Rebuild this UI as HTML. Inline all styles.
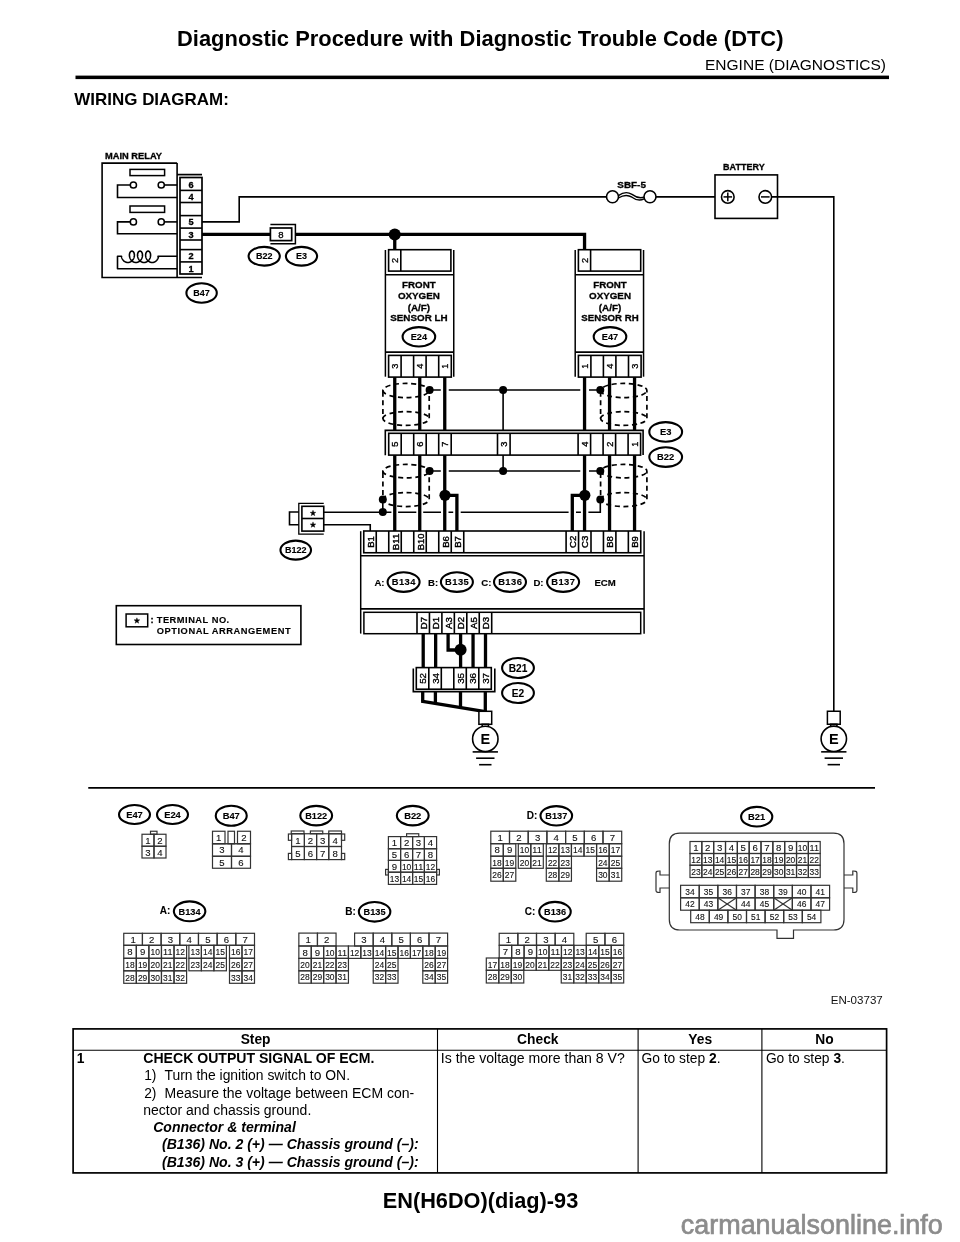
<!DOCTYPE html>
<html><head><meta charset="utf-8"><title>EN(H6DO)(diag)-93</title>
<style>
html,body{margin:0;padding:0;background:#fff;}
body{width:960px;height:1242px;overflow:hidden;}
svg{display:block;font-family:"Liberation Sans",sans-serif;will-change:transform;}
</style></head><body>
<svg width="960" height="1242" viewBox="0 0 960 1242">
<text x="177" y="45.5" font-size="21.9" font-weight="bold" text-anchor="start" fill="#000" textLength="606.5" lengthAdjust="spacingAndGlyphs" >Diagnostic Procedure with Diagnostic Trouble Code (DTC)</text>
<text x="705" y="70" font-size="15.5" font-weight="normal" text-anchor="start" fill="#000" textLength="181" lengthAdjust="spacingAndGlyphs" >ENGINE (DIAGNOSTICS)</text>
<rect x="75.5" y="75.6" width="813.5" height="3.5" fill="#000"/>
<text x="74.3" y="104.5" font-size="16.9" font-weight="bold" text-anchor="start" fill="#000" textLength="154.5" lengthAdjust="spacingAndGlyphs" >WIRING DIAGRAM:</text>
<text x="105" y="159" font-size="9.3" font-weight="bold" text-anchor="start" fill="#000" textLength="57" lengthAdjust="spacingAndGlyphs"  stroke="#000" stroke-width="0.3">MAIN RELAY</text>
<path d="M177.1,163.1 H102.1 V277.5 H202" stroke="#000" stroke-width="1.6" fill="none" />
<line x1="177.1" y1="163.1" x2="177.1" y2="277.5" stroke="#000" stroke-width="1.6" />
<line x1="177.1" y1="174.6" x2="202" y2="174.6" stroke="#000" stroke-width="1.7" />
<rect x="180" y="177.5" width="22" height="96.5" stroke="#000" stroke-width="1.7" fill="#fff"/>
<line x1="180" y1="190.4" x2="202" y2="190.4" stroke="#000" stroke-width="1.6" />
<line x1="180" y1="202.5" x2="202" y2="202.5" stroke="#000" stroke-width="1.6" />
<line x1="180" y1="215.6" x2="202" y2="215.6" stroke="#000" stroke-width="1.6" />
<line x1="180" y1="228.1" x2="202" y2="228.1" stroke="#000" stroke-width="1.6" />
<line x1="180" y1="240" x2="202" y2="240" stroke="#000" stroke-width="1.6" />
<line x1="180" y1="249.6" x2="202" y2="249.6" stroke="#000" stroke-width="1.6" />
<line x1="180" y1="261.9" x2="202" y2="261.9" stroke="#000" stroke-width="1.6" />
<text x="191" y="187.5" font-size="9.2" font-weight="bold" text-anchor="middle" fill="#000"  stroke="#000" stroke-width="0.3">6</text>
<text x="191" y="200" font-size="9.2" font-weight="bold" text-anchor="middle" fill="#000"  stroke="#000" stroke-width="0.3">4</text>
<text x="191" y="225.4" font-size="9.2" font-weight="bold" text-anchor="middle" fill="#000"  stroke="#000" stroke-width="0.3">5</text>
<text x="191" y="237.5" font-size="9.2" font-weight="bold" text-anchor="middle" fill="#000"  stroke="#000" stroke-width="0.3">3</text>
<text x="191" y="259.25" font-size="9.2" font-weight="bold" text-anchor="middle" fill="#000"  stroke="#000" stroke-width="0.3">2</text>
<text x="191" y="271.5" font-size="9.2" font-weight="bold" text-anchor="middle" fill="#000"  stroke="#000" stroke-width="0.3">1</text>
<rect x="130" y="169.4" width="34.6" height="6.2" stroke="#000" stroke-width="1.5" fill="#fff"/>
<path d="M164.4,185 H177.1" stroke="#000" stroke-width="1.6" fill="none" />
<path d="M130.3,185 H117.5 V197.5 H177.1" stroke="#000" stroke-width="1.6" fill="none" />
<circle cx="133.4" cy="185" r="3.1" stroke="#000" stroke-width="1.5" fill="#fff"/>
<circle cx="161.25" cy="185" r="3.1" stroke="#000" stroke-width="1.5" fill="#fff"/>
<rect x="130" y="206" width="34.6" height="6.4" stroke="#000" stroke-width="1.5" fill="#fff"/>
<path d="M164.4,221.9 H177.1" stroke="#000" stroke-width="1.6" fill="none" />
<path d="M130.3,221.9 H117.5 V233.75 H177.1" stroke="#000" stroke-width="1.6" fill="none" />
<circle cx="133.4" cy="221.9" r="3.1" stroke="#000" stroke-width="1.5" fill="#fff"/>
<circle cx="161.25" cy="221.9" r="3.1" stroke="#000" stroke-width="1.5" fill="#fff"/>
<path d="M177.1,256.3 H158 L158.45,256.98 L158.35,257.32 L158.25,257.66 L158.12,257.99 L157.98,258.33 L157.83,258.65 L157.66,258.97 L157.48,259.29 L157.28,259.59 L157.07,259.88 L156.85,260.16 L156.61,260.43 L156.36,260.69 L156.10,260.93 L155.83,261.16 L155.56,261.37 L155.27,261.57 L154.97,261.75 L154.66,261.91 L154.35,262.05 L154.03,262.17 L153.71,262.28 L153.38,262.36 L153.05,262.43 L152.72,262.47 L152.38,262.50 L152.05,262.50 L151.71,262.48 L151.38,262.44 L151.05,262.39 L150.72,262.31 L150.40,262.21 L150.08,262.09 L149.76,261.96 L149.45,261.80 L149.16,261.63 L148.86,261.44 L148.58,261.23 L148.31,261.01 L148.05,260.77 L147.79,260.52 L147.55,260.25 L147.33,259.97 L147.11,259.68 L146.91,259.38 L146.72,259.07 L146.55,258.76 L146.39,258.43 L146.25,258.10 L146.12,257.77 L146.01,257.43 L145.91,257.09 L145.82,256.75 L145.76,256.40 L145.71,256.06 L145.67,255.73 L145.65,255.39 L145.64,255.06 L145.65,254.74 L145.67,254.43 L145.71,254.12 L145.76,253.82 L145.83,253.54 L145.90,253.26 L145.99,253.00 L146.09,252.75 L146.20,252.52 L146.32,252.30 L146.45,252.10 L146.59,251.91 L146.74,251.75 L146.90,251.60 L147.06,251.47 L147.22,251.36 L147.39,251.27 L147.57,251.19 L147.75,251.14 L147.93,251.11 L148.11,251.10 L148.29,251.11 L148.47,251.14 L148.64,251.19 L148.82,251.26 L148.99,251.35 L149.16,251.46 L149.32,251.59 L149.47,251.74 L149.62,251.91 L149.76,252.09 L149.89,252.29 L150.01,252.51 L150.13,252.74 L150.23,252.99 L150.32,253.25 L150.39,253.53 L150.46,253.81 L150.51,254.11 L150.55,254.41 L150.57,254.73 L150.58,255.05 L150.57,255.38 L150.55,255.71 L150.52,256.05 L150.47,256.39 L150.40,256.73 L150.32,257.07 L150.22,257.41 L150.11,257.75 L149.98,258.09 L149.84,258.42 L149.68,258.74 L149.51,259.06 L149.32,259.37 L149.12,259.67 L148.90,259.96 L148.68,260.24 L148.44,260.51 L148.19,260.76 L147.92,261.00 L147.65,261.22 L147.37,261.43 L147.08,261.62 L146.78,261.79 L146.47,261.95 L146.16,262.09 L145.84,262.21 L145.51,262.30 L145.19,262.38 L144.85,262.44 L144.52,262.48 L144.19,262.50 L143.85,262.50 L143.52,262.47 L143.18,262.43 L142.85,262.37 L142.52,262.28 L142.20,262.18 L141.88,262.06 L141.57,261.91 L141.26,261.75 L140.97,261.58 L140.68,261.38 L140.40,261.17 L140.13,260.94 L139.87,260.70 L139.62,260.44 L139.38,260.17 L139.16,259.89 L138.95,259.60 L138.75,259.30 L138.57,258.99 L138.40,258.67 L138.24,258.34 L138.10,258.01 L137.98,257.67 L137.87,257.33 L137.78,256.99 L137.70,256.65 L137.64,256.31 L137.59,255.97 L137.56,255.63 L137.54,255.30 L137.54,254.97 L137.55,254.65 L137.58,254.34 L137.62,254.04 L137.67,253.74 L137.74,253.46 L137.82,253.19 L137.91,252.93 L138.02,252.69 L138.13,252.46 L138.25,252.24 L138.39,252.05 L138.53,251.87 L138.68,251.70 L138.84,251.56 L139.00,251.43 L139.17,251.33 L139.34,251.24 L139.51,251.18 L139.69,251.13 L139.87,251.11 L140.05,251.10 L140.23,251.12 L140.41,251.15 L140.59,251.21 L140.76,251.29 L140.93,251.38 L141.10,251.50 L141.26,251.63 L141.41,251.79 L141.56,251.96 L141.69,252.15 L141.82,252.35 L141.94,252.57 L142.05,252.81 L142.15,253.06 L142.23,253.33 L142.31,253.60 L142.37,253.89 L142.42,254.19 L142.45,254.50 L142.47,254.82 L142.47,255.14 L142.46,255.47 L142.44,255.81 L142.40,256.14 L142.34,256.49 L142.27,256.83 L142.19,257.17 L142.08,257.51 L141.97,257.85 L141.84,258.18 L141.69,258.51 L141.53,258.83 L141.35,259.15 L141.16,259.46 L140.95,259.75 L140.74,260.04 L140.51,260.32 L140.26,260.58 L140.01,260.83 L139.74,261.06 L139.47,261.28 L139.18,261.48 L138.89,261.67 L138.59,261.84 L138.28,261.99 L137.96,262.12 L137.64,262.24 L137.32,262.33 L136.99,262.40 L136.66,262.45 L136.32,262.49 L135.99,262.50 L135.65,262.49 L135.32,262.46 L134.98,262.41 L134.65,262.34 L134.33,262.26 L134.01,262.15 L133.69,262.02 L133.38,261.87 L133.08,261.71 L132.78,261.52 L132.49,261.32 L132.22,261.11 L131.95,260.88 L131.69,260.63 L131.45,260.37 L131.21,260.10 L130.99,259.81 L130.79,259.52 L130.59,259.21 L130.41,258.90 L130.25,258.58 L130.10,258.25 L129.96,257.91 L129.84,257.58 L129.74,257.24 L129.65,256.90 L129.57,256.55 L129.52,256.21 L129.47,255.87 L129.45,255.54 L129.43,255.21 L129.43,254.88 L129.45,254.56 L129.48,254.25 L129.53,253.95 L129.58,253.66 L129.66,253.38 L129.74,253.11 L129.83,252.86 L129.94,252.62 L130.06,252.40 L130.18,252.19 L130.32,251.99 L130.46,251.82 L130.62,251.66 L130.77,251.52 L130.94,251.40 L131.11,251.30 L131.28,251.22 L131.46,251.16 L131.64,251.12 L131.82,251.10 L132.00,251.10 L132.18,251.12 L132.36,251.17 L132.53,251.23 L132.71,251.31 L132.87,251.41 L133.04,251.53 L133.20,251.67 L133.35,251.83 L133.49,252.01 L133.63,252.20 L133.75,252.41 L133.87,252.64 L133.97,252.88 L134.07,253.13 L134.15,253.40 L134.22,253.68 L134.28,253.98 L134.32,254.28 L134.35,254.59 L134.37,254.91 L134.37,255.23 L134.35,255.56 L134.32,255.90 L134.28,256.24 L134.22,256.58 L134.14,256.92 L134.05,257.26 L133.95,257.60 L133.83,257.94 L133.69,258.27 L133.54,258.60 L133.37,258.92 L133.19,259.24 L133.00,259.54 L132.79,259.84 L132.57,260.12 L132.33,260.39 L132.09,260.65 L131.83,260.90 L131.56,261.13 L131.28,261.34 L131.00,261.54 L130.70,261.72 L130.40,261.88 L130.09,262.03 L129.77,262.16 L129.45,262.26 L129.12,262.35 L128.79,262.42 L128.46,262.47 L128.12,262.49 L127.79,262.50 L127.45,262.49 L127.12,262.45 L126.79,262.40 L126.46,262.32 L126.13,262.23 L125.81,262.11 L125.50,261.98 L125.19,261.83 L124.89,261.66 L124.59,261.47 L124.31,261.26 L124.03,261.04 L123.77,260.81 L123.52,260.56 L123.28,260.29 L123.05,260.02 L122.83,259.73 L122.63,259.43 L122.44,259.12 L122.26,258.81 L122.10,258.48 L121.95,258.15 L121.82,257.82 L121.71,257.48 L121.61,257.14 L121.52,256.80 L121.5,256.3 H117.5 V268.75 H177.1" stroke="#000" stroke-width="1.6" fill="none" stroke-linejoin="round"/>
<ellipse cx="201.6" cy="293" rx="15.2" ry="9.7" stroke="#000" stroke-width="2.1" fill="#fff"/>
<text x="201.6" y="296.11" font-size="9.02" font-weight="bold" text-anchor="middle" fill="#000"  stroke="#000" stroke-width="0.12">B47</text>
<path d="M202,221.9 H239.2 V196.9 H606.5" stroke="#000" stroke-width="1.6" fill="none" />
<circle cx="612.5" cy="196.8" r="6" stroke="#000" stroke-width="1.6" fill="#fff"/>
<circle cx="650" cy="196.8" r="6" stroke="#000" stroke-width="1.6" fill="#fff"/>
<path d="M618.4,195.6 C623,192.2 628,191.8 632,194.4 C636,197.4 639,198.8 644.1,197.2" stroke="#000" stroke-width="1.35" fill="none" />
<path d="M618.4,198.0 C623,195.2 628,194.8 632,197.2 C636,200.2 639.5,201.2 644.1,198.8" stroke="#000" stroke-width="1.35" fill="none" />
<path d="M656,196.9 H721.2" stroke="#000" stroke-width="1.6" fill="none" />
<text x="617.3" y="187.5" font-size="8.9" font-weight="bold" text-anchor="start" fill="#000" textLength="28.6" lengthAdjust="spacingAndGlyphs"  stroke="#000" stroke-width="0.3">SBF-5</text>
<text x="723.1" y="170.2" font-size="9.2" font-weight="bold" text-anchor="start" fill="#000" textLength="41.6" lengthAdjust="spacingAndGlyphs"  stroke="#000" stroke-width="0.3">BATTERY</text>
<rect x="715" y="174.9" width="62.5" height="43.5" stroke="#000" stroke-width="1.6" fill="#fff"/>
<circle cx="727.8" cy="196.9" r="6.3" stroke="#000" stroke-width="1.6" fill="#fff"/>
<line x1="723.5" y1="196.9" x2="732.1" y2="196.9" stroke="#000" stroke-width="1.5" />
<line x1="727.8" y1="192.6" x2="727.8" y2="201.2" stroke="#000" stroke-width="1.5" />
<circle cx="765.3" cy="196.9" r="6.3" stroke="#000" stroke-width="1.6" fill="#fff"/>
<line x1="761" y1="196.9" x2="769.6" y2="196.9" stroke="#000" stroke-width="1.5" />
<path d="M771.8,196.9 H833.8 V711.25" stroke="#000" stroke-width="1.6" fill="none" />
<path d="M202,234.4 H270.4" stroke="#000" stroke-width="3.3" fill="none" />
<path d="M295.4,234.4 H584.55 V250" stroke="#000" stroke-width="3.3" fill="none" stroke-linejoin="miter"/>
<rect x="270.4" y="228" width="21.3" height="12.6" stroke="#000" stroke-width="1.7" fill="#fff"/>
<path d="M270.4,224.6 H295.4 V243.75 H270.4" stroke="#000" stroke-width="1.5" fill="none" />
<text x="281" y="237.8" font-size="9.6" font-weight="normal" text-anchor="middle" fill="#000"  stroke="#000" stroke-width="0.3">8</text>
<ellipse cx="264.2" cy="256.25" rx="15.6" ry="9.4" stroke="#000" stroke-width="2.1" fill="#fff"/>
<text x="264.2" y="259.36" font-size="9.02" font-weight="bold" text-anchor="middle" fill="#000"  stroke="#000" stroke-width="0.12">B22</text>
<ellipse cx="301.5" cy="256.25" rx="15.6" ry="9.4" stroke="#000" stroke-width="2.1" fill="#fff"/>
<text x="301.5" y="259.36" font-size="9.02" font-weight="bold" text-anchor="middle" fill="#000"  stroke="#000" stroke-width="0.12">E3</text>
<circle cx="394.75" cy="234.4" r="6" fill="#000"/>
<line x1="394.75" y1="234.4" x2="394.75" y2="250" stroke="#000" stroke-width="3.3" />
<line x1="385.4" y1="250" x2="385.4" y2="376.7" stroke="#000" stroke-width="1.5" />
<line x1="453.75" y1="250" x2="453.75" y2="376.7" stroke="#000" stroke-width="1.5" />
<rect x="388.6" y="249.7" width="62.3" height="21.4" stroke="#000" stroke-width="1.6" fill="#fff"/>
<line x1="400.8" y1="249.7" x2="400.8" y2="271.1" stroke="#000" stroke-width="1.6" />
<text transform="translate(394.7,260.4) rotate(-90)" x="0" y="3.5" font-size="9.2" font-weight="normal" text-anchor="middle" fill="#000" stroke="#000" stroke-width="0.3">2</text>
<line x1="385.4" y1="274.8" x2="453.75" y2="274.8" stroke="#000" stroke-width="1.6" />
<line x1="385.4" y1="352.1" x2="453.75" y2="352.1" stroke="#000" stroke-width="1.6" />
<rect x="388.6" y="355.4" width="62.7" height="21.7" stroke="#000" stroke-width="1.6" fill="#fff"/>
<line x1="401.1" y1="355.4" x2="401.1" y2="377.1" stroke="#000" stroke-width="1.6" />
<line x1="413.6" y1="355.4" x2="413.6" y2="377.1" stroke="#000" stroke-width="1.6" />
<line x1="426.1" y1="355.4" x2="426.1" y2="377.1" stroke="#000" stroke-width="1.6" />
<line x1="438.7" y1="355.4" x2="438.7" y2="377.1" stroke="#000" stroke-width="1.6" />
<text transform="translate(394.85,366.25) rotate(-90)" x="0" y="3.5" font-size="9.2" font-weight="normal" text-anchor="middle" fill="#000" stroke="#000" stroke-width="0.3">3</text>
<text transform="translate(419.85,366.25) rotate(-90)" x="0" y="3.5" font-size="9.2" font-weight="normal" text-anchor="middle" fill="#000" stroke="#000" stroke-width="0.3">4</text>
<text transform="translate(444.95,366.25) rotate(-90)" x="0" y="3.5" font-size="9.2" font-weight="normal" text-anchor="middle" fill="#000" stroke="#000" stroke-width="0.3">1</text>
<text x="418.9" y="288" font-size="9.8" font-weight="bold" text-anchor="middle" fill="#000" textLength="33.6" lengthAdjust="spacingAndGlyphs"  stroke="#000" stroke-width="0.3">FRONT</text>
<text x="418.9" y="298.7" font-size="9.8" font-weight="bold" text-anchor="middle" fill="#000" textLength="42" lengthAdjust="spacingAndGlyphs"  stroke="#000" stroke-width="0.3">OXYGEN</text>
<text x="418.9" y="311" font-size="9.8" font-weight="bold" text-anchor="middle" fill="#000" textLength="22.5" lengthAdjust="spacingAndGlyphs"  stroke="#000" stroke-width="0.3">(A/F)</text>
<text x="418.9" y="321.3" font-size="9.8" font-weight="bold" text-anchor="middle" fill="#000" textLength="57.4" lengthAdjust="spacingAndGlyphs"  stroke="#000" stroke-width="0.3">SENSOR LH</text>
<ellipse cx="418.9" cy="336.8" rx="16.3" ry="9.7" stroke="#000" stroke-width="2.1" fill="#fff"/>
<text x="418.9" y="339.98" font-size="9.21" font-weight="bold" text-anchor="middle" fill="#000"  stroke="#000" stroke-width="0.12">E24</text>
<line x1="575.2" y1="250" x2="575.2" y2="376.7" stroke="#000" stroke-width="1.5" />
<line x1="643.55" y1="250" x2="643.55" y2="376.7" stroke="#000" stroke-width="1.5" />
<rect x="578.4" y="249.7" width="62.3" height="21.4" stroke="#000" stroke-width="1.6" fill="#fff"/>
<line x1="590.6" y1="249.7" x2="590.6" y2="271.1" stroke="#000" stroke-width="1.6" />
<text transform="translate(584.5,260.4) rotate(-90)" x="0" y="3.5" font-size="9.2" font-weight="normal" text-anchor="middle" fill="#000" stroke="#000" stroke-width="0.3">2</text>
<line x1="575.2" y1="274.8" x2="643.55" y2="274.8" stroke="#000" stroke-width="1.6" />
<line x1="575.2" y1="352.1" x2="643.55" y2="352.1" stroke="#000" stroke-width="1.6" />
<rect x="578.4" y="355.4" width="62.7" height="21.7" stroke="#000" stroke-width="1.6" fill="#fff"/>
<line x1="590.9" y1="355.4" x2="590.9" y2="377.1" stroke="#000" stroke-width="1.6" />
<line x1="603.4" y1="355.4" x2="603.4" y2="377.1" stroke="#000" stroke-width="1.6" />
<line x1="615.9" y1="355.4" x2="615.9" y2="377.1" stroke="#000" stroke-width="1.6" />
<line x1="628.5" y1="355.4" x2="628.5" y2="377.1" stroke="#000" stroke-width="1.6" />
<text transform="translate(584.65,366.25) rotate(-90)" x="0" y="3.5" font-size="9.2" font-weight="normal" text-anchor="middle" fill="#000" stroke="#000" stroke-width="0.3">1</text>
<text transform="translate(609.65,366.25) rotate(-90)" x="0" y="3.5" font-size="9.2" font-weight="normal" text-anchor="middle" fill="#000" stroke="#000" stroke-width="0.3">4</text>
<text transform="translate(634.75,366.25) rotate(-90)" x="0" y="3.5" font-size="9.2" font-weight="normal" text-anchor="middle" fill="#000" stroke="#000" stroke-width="0.3">3</text>
<text x="610" y="288" font-size="9.8" font-weight="bold" text-anchor="middle" fill="#000" textLength="33.6" lengthAdjust="spacingAndGlyphs"  stroke="#000" stroke-width="0.3">FRONT</text>
<text x="610" y="298.7" font-size="9.8" font-weight="bold" text-anchor="middle" fill="#000" textLength="42" lengthAdjust="spacingAndGlyphs"  stroke="#000" stroke-width="0.3">OXYGEN</text>
<text x="610" y="311" font-size="9.8" font-weight="bold" text-anchor="middle" fill="#000" textLength="22.5" lengthAdjust="spacingAndGlyphs"  stroke="#000" stroke-width="0.3">(A/F)</text>
<text x="610" y="321.3" font-size="9.8" font-weight="bold" text-anchor="middle" fill="#000" textLength="57.4" lengthAdjust="spacingAndGlyphs"  stroke="#000" stroke-width="0.3">SENSOR RH</text>
<ellipse cx="610" cy="336.8" rx="16.3" ry="9.7" stroke="#000" stroke-width="2.1" fill="#fff"/>
<text x="610" y="339.98" font-size="9.21" font-weight="bold" text-anchor="middle" fill="#000"  stroke="#000" stroke-width="0.12">E47</text>
<path d="M382.9,394.5 V390.5 A23.15,7.1 0 0 1 429.2,390.5 V418.5 A23.15,6.9 0 0 1 382.9,418.5 Z" stroke="#000" stroke-width="1.7" fill="none" stroke-dasharray="5,3.6" stroke-linecap="butt"/>
<path d="M382.9,390.5 A23.15,7.1 0 0 0 429.2,390.5" stroke="#000" stroke-width="1.7" fill="none" stroke-dasharray="5,3.6" stroke-linecap="butt"/>
<path d="M382.9,418.5 A23.15,6.9 0 0 1 429.2,418.5" stroke="#000" stroke-width="1.7" fill="none" stroke-dasharray="5,3.6" stroke-linecap="butt"/>
<path d="M600.6,394.5 V390.5 A23.15,7.1 0 0 1 646.9,390.5 V418.5 A23.15,6.9 0 0 1 600.6,418.5 Z" stroke="#000" stroke-width="1.7" fill="none" stroke-dasharray="5,3.6" stroke-linecap="butt"/>
<path d="M600.6,390.5 A23.15,7.1 0 0 0 646.9,390.5" stroke="#000" stroke-width="1.7" fill="none" stroke-dasharray="5,3.6" stroke-linecap="butt"/>
<path d="M600.6,418.5 A23.15,6.9 0 0 1 646.9,418.5" stroke="#000" stroke-width="1.7" fill="none" stroke-dasharray="5,3.6" stroke-linecap="butt"/>
<path d="M382.9,475.15 V471.15 A23.15,6.7 0 0 1 429.2,471.15 V499.55 A23.15,7 0 0 1 382.9,499.55 Z" stroke="#000" stroke-width="1.7" fill="none" stroke-dasharray="5,3.6" stroke-linecap="butt"/>
<path d="M382.9,471.15 A23.15,6.7 0 0 0 429.2,471.15" stroke="#000" stroke-width="1.7" fill="none" stroke-dasharray="5,3.6" stroke-linecap="butt"/>
<path d="M382.9,499.55 A23.15,7 0 0 1 429.2,499.55" stroke="#000" stroke-width="1.7" fill="none" stroke-dasharray="5,3.6" stroke-linecap="butt"/>
<path d="M600.6,475.15 V471.15 A23.15,6.7 0 0 1 646.9,471.15 V499.55 A23.15,7 0 0 1 600.6,499.55 Z" stroke="#000" stroke-width="1.7" fill="none" stroke-dasharray="5,3.6" stroke-linecap="butt"/>
<path d="M600.6,471.15 A23.15,6.7 0 0 0 646.9,471.15" stroke="#000" stroke-width="1.7" fill="none" stroke-dasharray="5,3.6" stroke-linecap="butt"/>
<path d="M600.6,499.55 A23.15,7 0 0 1 646.9,499.55" stroke="#000" stroke-width="1.7" fill="none" stroke-dasharray="5,3.6" stroke-linecap="butt"/>
<line x1="394.75" y1="377.1" x2="394.75" y2="430.4" stroke="#000" stroke-width="3.3" />
<line x1="394.75" y1="455.1" x2="394.75" y2="531" stroke="#000" stroke-width="3.3" />
<line x1="419.75" y1="377.1" x2="419.75" y2="430.4" stroke="#000" stroke-width="3.3" />
<line x1="419.75" y1="455.1" x2="419.75" y2="531" stroke="#000" stroke-width="3.3" />
<line x1="444.75" y1="377.1" x2="444.75" y2="430.4" stroke="#000" stroke-width="3.3" />
<line x1="444.75" y1="455.1" x2="444.75" y2="531" stroke="#000" stroke-width="3.3" />
<line x1="584.55" y1="377.1" x2="584.55" y2="430.4" stroke="#000" stroke-width="3.3" />
<line x1="584.55" y1="455.1" x2="584.55" y2="531" stroke="#000" stroke-width="3.3" />
<line x1="609.55" y1="377.1" x2="609.55" y2="430.4" stroke="#000" stroke-width="3.3" />
<line x1="609.55" y1="455.1" x2="609.55" y2="531" stroke="#000" stroke-width="3.3" />
<line x1="634.55" y1="377.1" x2="634.55" y2="430.4" stroke="#000" stroke-width="3.3" />
<line x1="634.55" y1="455.1" x2="634.55" y2="531" stroke="#000" stroke-width="3.3" />
<circle cx="445" cy="495.3" r="5.6" fill="#000"/>
<path d="M445,495.3 H456.9 V531" stroke="#000" stroke-width="3.3" fill="none" />
<circle cx="584.8" cy="495.3" r="5.6" fill="#000"/>
<path d="M584.8,495.3 H572.3 V531" stroke="#000" stroke-width="3.3" fill="none" />
<path d="M429.6,390 H440.8 M448.75,390 H580.25 M589,390 H600.3" stroke="#000" stroke-width="1.6" fill="none" />
<path d="M429.6,471 H440.8 M448.75,471 H580.25 M589,471 H600.3" stroke="#000" stroke-width="1.6" fill="none" />
<line x1="503.1" y1="390" x2="503.1" y2="430.5" stroke="#000" stroke-width="1.6" />
<line x1="503.1" y1="455.1" x2="503.1" y2="471" stroke="#000" stroke-width="1.6" />
<circle cx="429.6" cy="390" r="4" fill="#000"/>
<circle cx="503.1" cy="390" r="4" fill="#000"/>
<circle cx="600.3" cy="390" r="4" fill="#000"/>
<circle cx="429.6" cy="471" r="4" fill="#000"/>
<circle cx="503.1" cy="471" r="4" fill="#000"/>
<circle cx="600.3" cy="471" r="4" fill="#000"/>
<circle cx="600.3" cy="499.5" r="4" fill="#000"/>
<circle cx="382.8" cy="499.5" r="4" fill="#000"/>
<circle cx="382.8" cy="512" r="4" fill="#000"/>
<line x1="382.8" y1="499.5" x2="382.8" y2="512" stroke="#000" stroke-width="1.6" />
<path d="M323.75,512.2 H391.4 M398.1,512.2 H416.3 M423.2,512.2 H441 M448.5,512.2 H453.2 M460.7,512.2 H568.6 M576,512.2 H580.9 M588.4,512.2 H600.3 V499.5" stroke="#000" stroke-width="1.6" fill="none" />
<path d="M385.3,455.3 V430.4 H643.1 V455" stroke="#000" stroke-width="1.6" fill="none" />
<rect x="388.7" y="433.3" width="251.9" height="21.8" stroke="#000" stroke-width="1.6" fill="#fff"/>
<line x1="401.2" y1="433.3" x2="401.2" y2="455.1" stroke="#000" stroke-width="1.6" />
<line x1="413.7" y1="433.3" x2="413.7" y2="455.1" stroke="#000" stroke-width="1.6" />
<line x1="426.2" y1="433.3" x2="426.2" y2="455.1" stroke="#000" stroke-width="1.6" />
<line x1="438.7" y1="433.3" x2="438.7" y2="455.1" stroke="#000" stroke-width="1.6" />
<line x1="451.2" y1="433.3" x2="451.2" y2="455.1" stroke="#000" stroke-width="1.6" />
<line x1="497.5" y1="433.3" x2="497.5" y2="455.1" stroke="#000" stroke-width="1.6" />
<line x1="510.1" y1="433.3" x2="510.1" y2="455.1" stroke="#000" stroke-width="1.6" />
<line x1="578.1" y1="433.3" x2="578.1" y2="455.1" stroke="#000" stroke-width="1.6" />
<line x1="590.6" y1="433.3" x2="590.6" y2="455.1" stroke="#000" stroke-width="1.6" />
<line x1="603.1" y1="433.3" x2="603.1" y2="455.1" stroke="#000" stroke-width="1.6" />
<line x1="615.6" y1="433.3" x2="615.6" y2="455.1" stroke="#000" stroke-width="1.6" />
<line x1="628.1" y1="433.3" x2="628.1" y2="455.1" stroke="#000" stroke-width="1.6" />
<text transform="translate(394.95,444.2) rotate(-90)" x="0" y="3.5" font-size="9.2" font-weight="normal" text-anchor="middle" fill="#000" stroke="#000" stroke-width="0.35">5</text>
<text transform="translate(419.95,444.2) rotate(-90)" x="0" y="3.5" font-size="9.2" font-weight="normal" text-anchor="middle" fill="#000" stroke="#000" stroke-width="0.35">6</text>
<text transform="translate(444.95,444.2) rotate(-90)" x="0" y="3.5" font-size="9.2" font-weight="normal" text-anchor="middle" fill="#000" stroke="#000" stroke-width="0.35">7</text>
<text transform="translate(503.8,444.2) rotate(-90)" x="0" y="3.5" font-size="9.2" font-weight="normal" text-anchor="middle" fill="#000" stroke="#000" stroke-width="0.35">3</text>
<text transform="translate(584.35,444.2) rotate(-90)" x="0" y="3.5" font-size="9.2" font-weight="normal" text-anchor="middle" fill="#000" stroke="#000" stroke-width="0.35">4</text>
<text transform="translate(609.35,444.2) rotate(-90)" x="0" y="3.5" font-size="9.2" font-weight="normal" text-anchor="middle" fill="#000" stroke="#000" stroke-width="0.35">2</text>
<text transform="translate(634.35,444.2) rotate(-90)" x="0" y="3.5" font-size="9.2" font-weight="normal" text-anchor="middle" fill="#000" stroke="#000" stroke-width="0.35">1</text>
<ellipse cx="665.7" cy="431.9" rx="16.4" ry="9.8" stroke="#000" stroke-width="2.1" fill="#fff"/>
<text x="665.7" y="435.14" font-size="9.4" font-weight="bold" text-anchor="middle" fill="#000"  stroke="#000" stroke-width="0.12">E3</text>
<ellipse cx="665.7" cy="457.1" rx="16.4" ry="9.8" stroke="#000" stroke-width="2.1" fill="#fff"/>
<text x="665.7" y="460.34" font-size="9.4" font-weight="bold" text-anchor="middle" fill="#000"  stroke="#000" stroke-width="0.12">B22</text>
<rect x="301.9" y="506.3" width="21.85" height="24.8" stroke="#000" stroke-width="1.6" fill="#fff"/>
<line x1="301.9" y1="518.5" x2="323.75" y2="518.5" stroke="#000" stroke-width="1.6" />
<path d="M323.75,503.3 H298.8 V534.2 H323.75" stroke="#000" stroke-width="1.3" fill="none" />
<path d="M298.8,512 H289.5 V524.8 H298.8" stroke="#000" stroke-width="1.6" fill="none" />
<polygon points="313.00,510.20 313.73,512.19 315.85,512.27 314.19,513.59 314.76,515.63 313.00,514.45 311.24,515.63 311.81,513.59 310.15,512.27 312.27,512.19" fill="#000" stroke="#000" stroke-width="0.4" stroke-linejoin="round"/>
<polygon points="313.00,521.90 313.73,523.89 315.85,523.97 314.19,525.29 314.76,527.33 313.00,526.15 311.24,527.33 311.81,525.29 310.15,523.97 312.27,523.89" fill="#000" stroke="#000" stroke-width="0.4" stroke-linejoin="round"/>
<path d="M323.75,524.7 H370.25 V531" stroke="#000" stroke-width="1.6" fill="none" />
<ellipse cx="295.75" cy="550.1" rx="15.3" ry="9.5" stroke="#000" stroke-width="2.1" fill="#fff"/>
<text x="295.75" y="553.21" font-size="9.02" font-weight="bold" text-anchor="middle" fill="#000"  stroke="#000" stroke-width="0.12">B122</text>
<path d="M360.7,531.2 V633.6" stroke="#000" stroke-width="1.5" fill="none" />
<path d="M644.1,531.2 V633.7" stroke="#000" stroke-width="1.5" fill="none" />
<rect x="363.75" y="531" width="277" height="21.75" stroke="#000" stroke-width="1.6" fill="#fff"/>
<line x1="376.25" y1="531" x2="376.25" y2="552.75" stroke="#000" stroke-width="1.6" />
<line x1="388.75" y1="531" x2="388.75" y2="552.75" stroke="#000" stroke-width="1.6" />
<line x1="401.25" y1="531" x2="401.25" y2="552.75" stroke="#000" stroke-width="1.6" />
<line x1="413.75" y1="531" x2="413.75" y2="552.75" stroke="#000" stroke-width="1.6" />
<line x1="426.25" y1="531" x2="426.25" y2="552.75" stroke="#000" stroke-width="1.6" />
<line x1="438.75" y1="531" x2="438.75" y2="552.75" stroke="#000" stroke-width="1.6" />
<line x1="451.25" y1="531" x2="451.25" y2="552.75" stroke="#000" stroke-width="1.6" />
<line x1="463.75" y1="531" x2="463.75" y2="552.75" stroke="#000" stroke-width="1.6" />
<line x1="566.1" y1="531" x2="566.1" y2="552.75" stroke="#000" stroke-width="1.6" />
<line x1="578.55" y1="531" x2="578.55" y2="552.75" stroke="#000" stroke-width="1.6" />
<line x1="591" y1="531" x2="591" y2="552.75" stroke="#000" stroke-width="1.6" />
<line x1="603.45" y1="531" x2="603.45" y2="552.75" stroke="#000" stroke-width="1.6" />
<line x1="615.9" y1="531" x2="615.9" y2="552.75" stroke="#000" stroke-width="1.6" />
<line x1="628.35" y1="531" x2="628.35" y2="552.75" stroke="#000" stroke-width="1.6" />
<text transform="translate(370,541.9) rotate(-90)" x="0" y="3.65" font-size="9.6" font-weight="normal" text-anchor="middle" fill="#000" stroke="#000" stroke-width="0.4">B1</text>
<text transform="translate(395,541.9) rotate(-90)" x="0" y="3.65" font-size="9.6" font-weight="normal" text-anchor="middle" fill="#000" textLength="16.6" lengthAdjust="spacingAndGlyphs" stroke="#000" stroke-width="0.4">B11</text>
<text transform="translate(420,541.9) rotate(-90)" x="0" y="3.65" font-size="9.6" font-weight="normal" text-anchor="middle" fill="#000" textLength="16.6" lengthAdjust="spacingAndGlyphs" stroke="#000" stroke-width="0.4">B10</text>
<text transform="translate(445,541.9) rotate(-90)" x="0" y="3.65" font-size="9.6" font-weight="normal" text-anchor="middle" fill="#000" stroke="#000" stroke-width="0.4">B6</text>
<text transform="translate(457.5,541.9) rotate(-90)" x="0" y="3.65" font-size="9.6" font-weight="normal" text-anchor="middle" fill="#000" stroke="#000" stroke-width="0.4">B7</text>
<text transform="translate(572.3,541.9) rotate(-90)" x="0" y="3.65" font-size="9.6" font-weight="normal" text-anchor="middle" fill="#000" stroke="#000" stroke-width="0.4">C2</text>
<text transform="translate(584.8,541.9) rotate(-90)" x="0" y="3.65" font-size="9.6" font-weight="normal" text-anchor="middle" fill="#000" stroke="#000" stroke-width="0.4">C3</text>
<text transform="translate(609.7,541.9) rotate(-90)" x="0" y="3.65" font-size="9.6" font-weight="normal" text-anchor="middle" fill="#000" stroke="#000" stroke-width="0.4">B8</text>
<text transform="translate(634.55,541.9) rotate(-90)" x="0" y="3.65" font-size="9.6" font-weight="normal" text-anchor="middle" fill="#000" stroke="#000" stroke-width="0.4">B9</text>
<line x1="360.7" y1="555.7" x2="644.1" y2="555.7" stroke="#000" stroke-width="1.6" />
<line x1="360.7" y1="608.9" x2="644.1" y2="608.9" stroke="#000" stroke-width="1.6" />
<rect x="363.9" y="612.3" width="276.8" height="21.4" stroke="#000" stroke-width="1.5" fill="#fff"/>
<line x1="417" y1="612.3" x2="417" y2="633.7" stroke="#000" stroke-width="1.6" />
<line x1="429.45" y1="612.3" x2="429.45" y2="633.7" stroke="#000" stroke-width="1.6" />
<line x1="441.9" y1="612.3" x2="441.9" y2="633.7" stroke="#000" stroke-width="1.6" />
<line x1="454.35" y1="612.3" x2="454.35" y2="633.7" stroke="#000" stroke-width="1.6" />
<line x1="466.8" y1="612.3" x2="466.8" y2="633.7" stroke="#000" stroke-width="1.6" />
<line x1="479.25" y1="612.3" x2="479.25" y2="633.7" stroke="#000" stroke-width="1.6" />
<line x1="491.7" y1="612.3" x2="491.7" y2="633.7" stroke="#000" stroke-width="1.6" />
<text transform="translate(423.22,623) rotate(-90)" x="0" y="3.65" font-size="9.6" font-weight="normal" text-anchor="middle" fill="#000" stroke="#000" stroke-width="0.4">D7</text>
<text transform="translate(435.67,623) rotate(-90)" x="0" y="3.65" font-size="9.6" font-weight="normal" text-anchor="middle" fill="#000" stroke="#000" stroke-width="0.4">D1</text>
<text transform="translate(448.12,623) rotate(-90)" x="0" y="3.65" font-size="9.6" font-weight="normal" text-anchor="middle" fill="#000" stroke="#000" stroke-width="0.4">A3</text>
<text transform="translate(460.57,623) rotate(-90)" x="0" y="3.65" font-size="9.6" font-weight="normal" text-anchor="middle" fill="#000" stroke="#000" stroke-width="0.4">D2</text>
<text transform="translate(473.02,623) rotate(-90)" x="0" y="3.65" font-size="9.6" font-weight="normal" text-anchor="middle" fill="#000" stroke="#000" stroke-width="0.4">A5</text>
<text transform="translate(485.47,623) rotate(-90)" x="0" y="3.65" font-size="9.6" font-weight="normal" text-anchor="middle" fill="#000" stroke="#000" stroke-width="0.4">D3</text>
<text x="374.4" y="585.6" font-size="9.6" font-weight="bold" text-anchor="start" fill="#000"  stroke="#000" stroke-width="0.15">A:</text>
<ellipse cx="403.6" cy="582.1" rx="16" ry="9.8" stroke="#000" stroke-width="2.1" fill="#fff"/>
<text x="403.6" y="585.34" font-size="9.4" font-weight="bold" text-anchor="middle" fill="#000" textLength="23.7" lengthAdjust="spacing"  stroke="#000" stroke-width="0.12">B134</text>
<text x="428.1" y="585.6" font-size="9.6" font-weight="bold" text-anchor="start" fill="#000"  stroke="#000" stroke-width="0.15">B:</text>
<ellipse cx="456.9" cy="582.1" rx="16" ry="9.8" stroke="#000" stroke-width="2.1" fill="#fff"/>
<text x="456.9" y="585.34" font-size="9.4" font-weight="bold" text-anchor="middle" fill="#000" textLength="23.7" lengthAdjust="spacing"  stroke="#000" stroke-width="0.12">B135</text>
<text x="481.25" y="585.6" font-size="9.6" font-weight="bold" text-anchor="start" fill="#000"  stroke="#000" stroke-width="0.15">C:</text>
<ellipse cx="510" cy="582.1" rx="16" ry="9.8" stroke="#000" stroke-width="2.1" fill="#fff"/>
<text x="510" y="585.34" font-size="9.4" font-weight="bold" text-anchor="middle" fill="#000" textLength="23.7" lengthAdjust="spacing"  stroke="#000" stroke-width="0.12">B136</text>
<text x="533.4" y="585.6" font-size="9.6" font-weight="bold" text-anchor="start" fill="#000"  stroke="#000" stroke-width="0.15">D:</text>
<ellipse cx="563.1" cy="582.1" rx="16" ry="9.8" stroke="#000" stroke-width="2.1" fill="#fff"/>
<text x="563.1" y="585.34" font-size="9.4" font-weight="bold" text-anchor="middle" fill="#000" textLength="23.7" lengthAdjust="spacing"  stroke="#000" stroke-width="0.12">B137</text>
<text x="594.4" y="585.6" font-size="9.6" font-weight="bold" text-anchor="start" fill="#000" textLength="21.4" lengthAdjust="spacing"  stroke="#000" stroke-width="0.15">ECM</text>
<rect x="116.3" y="605.7" width="184.6" height="38.8" stroke="#000" stroke-width="1.6" fill="#fff"/>
<rect x="126.1" y="614" width="21.6" height="12.8" stroke="#000" stroke-width="1.5" fill="#fff"/>
<polygon points="136.90,617.80 137.63,619.79 139.75,619.87 138.09,621.19 138.66,623.23 136.90,622.05 135.14,623.23 135.71,621.19 134.05,619.87 136.17,619.79" fill="#000" stroke="#000" stroke-width="0.4" stroke-linejoin="round"/>
<text x="150.5" y="623.3" font-size="9.3" font-weight="bold" text-anchor="start" fill="#000"  stroke="#000" stroke-width="0.3">:</text>
<text x="156.7" y="623.3" font-size="9.3" font-weight="bold" text-anchor="start" fill="#000" textLength="72.5" lengthAdjust="spacing"  stroke="#000" stroke-width="0.12">TERMINAL NO.</text>
<text x="156.7" y="634.4" font-size="9.3" font-weight="bold" text-anchor="start" fill="#000" textLength="133.9" lengthAdjust="spacing"  stroke="#000" stroke-width="0.12">OPTIONAL ARRANGEMENT</text>
<line x1="423.2" y1="633.7" x2="423.2" y2="667.6" stroke="#000" stroke-width="3.3" />
<line x1="435.65" y1="633.7" x2="435.65" y2="667.6" stroke="#000" stroke-width="3.3" />
<line x1="460.6" y1="633.7" x2="460.6" y2="667.6" stroke="#000" stroke-width="3.3" />
<line x1="473.05" y1="633.7" x2="473.05" y2="667.6" stroke="#000" stroke-width="3.3" />
<line x1="485.5" y1="633.7" x2="485.5" y2="667.6" stroke="#000" stroke-width="3.3" />
<path d="M448.1,633.7 V650 H460.6" stroke="#000" stroke-width="3.3" fill="none" />
<circle cx="460.6" cy="649.8" r="6" fill="#000"/>
<rect x="416.3" y="667.6" width="75" height="21.6" stroke="#000" stroke-width="1.6" fill="#fff"/>
<line x1="428.8" y1="667.6" x2="428.8" y2="689.2" stroke="#000" stroke-width="1.6" />
<line x1="441.3" y1="667.6" x2="441.3" y2="689.2" stroke="#000" stroke-width="1.6" />
<line x1="453.8" y1="667.6" x2="453.8" y2="689.2" stroke="#000" stroke-width="1.6" />
<line x1="466.3" y1="667.6" x2="466.3" y2="689.2" stroke="#000" stroke-width="1.6" />
<line x1="478.8" y1="667.6" x2="478.8" y2="689.2" stroke="#000" stroke-width="1.6" />
<text transform="translate(422.55,678.4) rotate(-90)" x="0" y="3.72" font-size="9.8" font-weight="normal" text-anchor="middle" fill="#000" stroke="#000" stroke-width="0.3">52</text>
<text transform="translate(435.05,678.4) rotate(-90)" x="0" y="3.72" font-size="9.8" font-weight="normal" text-anchor="middle" fill="#000" stroke="#000" stroke-width="0.3">34</text>
<text transform="translate(460.05,678.4) rotate(-90)" x="0" y="3.72" font-size="9.8" font-weight="normal" text-anchor="middle" fill="#000" stroke="#000" stroke-width="0.3">35</text>
<text transform="translate(472.55,678.4) rotate(-90)" x="0" y="3.72" font-size="9.8" font-weight="normal" text-anchor="middle" fill="#000" stroke="#000" stroke-width="0.3">36</text>
<text transform="translate(485.05,678.4) rotate(-90)" x="0" y="3.72" font-size="9.8" font-weight="normal" text-anchor="middle" fill="#000" stroke="#000" stroke-width="0.3">37</text>
<path d="M413.3,668.4 V691.6 H494.8 V668.4" stroke="#000" stroke-width="1.6" fill="none" />
<ellipse cx="518" cy="668" rx="15.9" ry="10" stroke="#000" stroke-width="2.1" fill="#fff"/>
<text x="518" y="671.5" font-size="10.15" font-weight="bold" text-anchor="middle" fill="#000"  stroke="#000" stroke-width="0.12">B21</text>
<ellipse cx="518" cy="693" rx="15.9" ry="10" stroke="#000" stroke-width="2.1" fill="#fff"/>
<text x="518" y="696.5" font-size="10.15" font-weight="bold" text-anchor="middle" fill="#000"  stroke="#000" stroke-width="0.12">E2</text>
<line x1="422.7" y1="691.6" x2="422.7" y2="701.5" stroke="#000" stroke-width="3.3" />
<line x1="435.4" y1="691.6" x2="435.4" y2="703.6" stroke="#000" stroke-width="3.3" />
<line x1="460.5" y1="691.6" x2="460.5" y2="707.7" stroke="#000" stroke-width="3.3" />
<line x1="485.3" y1="691.6" x2="485.3" y2="711.3" stroke="#000" stroke-width="3.3" />
<path d="M421.2,701.2 L486.8,711.8" stroke="#000" stroke-width="3.3" fill="none" />
<rect x="478.9" y="711.3" width="12.8" height="13" stroke="#000" stroke-width="1.5" fill="#fff"/>
<rect x="482.2" y="724.3" width="6.2" height="3.2" stroke="#000" stroke-width="1.6" fill="#fff"/>
<circle cx="485.3" cy="738.9" r="12.7" stroke="#000" stroke-width="1.6" fill="#fff"/>
<text x="485.3" y="744.1" font-size="14.5" font-weight="bold" text-anchor="middle" fill="#000" >E</text>
<line x1="472.65" y1="751.9" x2="497.95" y2="751.9" stroke="#000" stroke-width="1.6" />
<line x1="476.1" y1="758.2" x2="494.5" y2="758.2" stroke="#000" stroke-width="1.6" />
<line x1="479.1" y1="764.7" x2="491.5" y2="764.7" stroke="#000" stroke-width="1.6" />
<rect x="827.4" y="711.25" width="12.8" height="13" stroke="#000" stroke-width="1.5" fill="#fff"/>
<rect x="830.7" y="724.25" width="6.2" height="3.2" stroke="#000" stroke-width="1.6" fill="#fff"/>
<circle cx="833.8" cy="738.85" r="12.7" stroke="#000" stroke-width="1.6" fill="#fff"/>
<text x="833.8" y="744.05" font-size="14.5" font-weight="bold" text-anchor="middle" fill="#000" >E</text>
<line x1="821.15" y1="751.85" x2="846.45" y2="751.85" stroke="#000" stroke-width="1.6" />
<line x1="824.6" y1="758.15" x2="843" y2="758.15" stroke="#000" stroke-width="1.6" />
<line x1="827.6" y1="764.65" x2="840" y2="764.65" stroke="#000" stroke-width="1.6" />
<line x1="88.25" y1="787.9" x2="875" y2="787.9" stroke="#000" stroke-width="1.8" />
<ellipse cx="134.5" cy="814.5" rx="15.5" ry="9.5" stroke="#000" stroke-width="2.1" fill="#fff"/>
<text x="134.5" y="817.74" font-size="9.4" font-weight="bold" text-anchor="middle" fill="#000"  stroke="#000" stroke-width="0.12">E47</text>
<ellipse cx="172.5" cy="814.5" rx="15.5" ry="9.5" stroke="#000" stroke-width="2.1" fill="#fff"/>
<text x="172.5" y="817.74" font-size="9.4" font-weight="bold" text-anchor="middle" fill="#000"  stroke="#000" stroke-width="0.12">E24</text>
<ellipse cx="231.25" cy="815.75" rx="15.5" ry="10" stroke="#000" stroke-width="2.1" fill="#fff"/>
<text x="231.25" y="818.99" font-size="9.4" font-weight="bold" text-anchor="middle" fill="#000"  stroke="#000" stroke-width="0.12">B47</text>
<ellipse cx="316.2" cy="815.6" rx="15.9" ry="9.75" stroke="#000" stroke-width="2.1" fill="#fff"/>
<text x="316.2" y="818.91" font-size="9.59" font-weight="bold" text-anchor="middle" fill="#000" textLength="22" lengthAdjust="spacingAndGlyphs"  stroke="#000" stroke-width="0.12">B122</text>
<ellipse cx="412.75" cy="815.6" rx="15.9" ry="9.75" stroke="#000" stroke-width="2.1" fill="#fff"/>
<text x="412.75" y="818.84" font-size="9.4" font-weight="bold" text-anchor="middle" fill="#000"  stroke="#000" stroke-width="0.12">B22</text>
<text x="526.7" y="819.1" font-size="10" font-weight="bold" text-anchor="start" fill="#000"  stroke="#000" stroke-width="0.1">D:</text>
<ellipse cx="556.3" cy="815.8" rx="15.8" ry="9.7" stroke="#000" stroke-width="2.1" fill="#fff"/>
<text x="556.3" y="819.11" font-size="9.59" font-weight="bold" text-anchor="middle" fill="#000" textLength="22" lengthAdjust="spacingAndGlyphs"  stroke="#000" stroke-width="0.12">B137</text>
<ellipse cx="756.7" cy="816.7" rx="15.6" ry="9.8" stroke="#000" stroke-width="2.1" fill="#fff"/>
<text x="756.7" y="819.94" font-size="9.4" font-weight="bold" text-anchor="middle" fill="#000"  stroke="#000" stroke-width="0.12">B21</text>
<text x="159.7" y="914.4" font-size="10" font-weight="bold" text-anchor="start" fill="#000"  stroke="#000" stroke-width="0.1">A:</text>
<ellipse cx="189.6" cy="911.3" rx="15.75" ry="9.9" stroke="#000" stroke-width="2.1" fill="#fff"/>
<text x="189.6" y="914.61" font-size="9.59" font-weight="bold" text-anchor="middle" fill="#000" textLength="22" lengthAdjust="spacingAndGlyphs"  stroke="#000" stroke-width="0.12">B134</text>
<text x="345.25" y="914.9" font-size="10" font-weight="bold" text-anchor="start" fill="#000"  stroke="#000" stroke-width="0.1">B:</text>
<ellipse cx="374.6" cy="911.8" rx="15.75" ry="9.8" stroke="#000" stroke-width="2.1" fill="#fff"/>
<text x="374.6" y="915.11" font-size="9.59" font-weight="bold" text-anchor="middle" fill="#000" textLength="22" lengthAdjust="spacingAndGlyphs"  stroke="#000" stroke-width="0.12">B135</text>
<text x="524.7" y="914.8" font-size="10" font-weight="bold" text-anchor="start" fill="#000"  stroke="#000" stroke-width="0.1">C:</text>
<ellipse cx="555" cy="911.7" rx="15.75" ry="9.8" stroke="#000" stroke-width="2.1" fill="#fff"/>
<text x="555" y="915.01" font-size="9.59" font-weight="bold" text-anchor="middle" fill="#000" textLength="22" lengthAdjust="spacingAndGlyphs"  stroke="#000" stroke-width="0.12">B136</text>
<rect x="150.5" y="831.25" width="6.5" height="3" stroke="#333" stroke-width="1.2" fill="none"/>
<rect x="142" y="834.25" width="12" height="12" stroke="#333" stroke-width="1.2" fill="none"/>
<text x="148" y="843.71" font-size="9.6" font-weight="normal" text-anchor="middle" fill="#111"  stroke="#111" stroke-width="0.12">1</text>
<rect x="154" y="834.25" width="12" height="12" stroke="#333" stroke-width="1.2" fill="none"/>
<text x="160" y="843.71" font-size="9.6" font-weight="normal" text-anchor="middle" fill="#111"  stroke="#111" stroke-width="0.12">2</text>
<rect x="142" y="846.25" width="12" height="11.75" stroke="#333" stroke-width="1.2" fill="none"/>
<text x="148" y="855.58" font-size="9.6" font-weight="normal" text-anchor="middle" fill="#111"  stroke="#111" stroke-width="0.12">3</text>
<rect x="154" y="846.25" width="12" height="11.75" stroke="#333" stroke-width="1.2" fill="none"/>
<text x="160" y="855.58" font-size="9.6" font-weight="normal" text-anchor="middle" fill="#111"  stroke="#111" stroke-width="0.12">4</text>
<rect x="212.5" y="831.25" width="12.5" height="12.5" stroke="#333" stroke-width="1.2" fill="none"/>
<text x="218.75" y="840.96" font-size="9.6" font-weight="normal" text-anchor="middle" fill="#111"  stroke="#111" stroke-width="0.12">1</text>
<rect x="228" y="831.25" width="6.5" height="12.5" stroke="#333" stroke-width="1.2" fill="none"/>
<rect x="237.5" y="831.25" width="13" height="12.5" stroke="#333" stroke-width="1.2" fill="none"/>
<text x="244" y="840.96" font-size="9.6" font-weight="normal" text-anchor="middle" fill="#111"  stroke="#111" stroke-width="0.12">2</text>
<line x1="212.5" y1="843.75" x2="250.5" y2="843.75" stroke="#333" stroke-width="1.2" />
<rect x="212.5" y="843.75" width="19" height="12.5" stroke="#333" stroke-width="1.2" fill="none"/>
<text x="222" y="853.46" font-size="9.6" font-weight="normal" text-anchor="middle" fill="#111"  stroke="#111" stroke-width="0.12">3</text>
<rect x="231.5" y="843.75" width="19" height="12.5" stroke="#333" stroke-width="1.2" fill="none"/>
<text x="241" y="853.46" font-size="9.6" font-weight="normal" text-anchor="middle" fill="#111"  stroke="#111" stroke-width="0.12">4</text>
<rect x="212.5" y="856.25" width="19" height="12" stroke="#333" stroke-width="1.2" fill="none"/>
<text x="222" y="865.71" font-size="9.6" font-weight="normal" text-anchor="middle" fill="#111"  stroke="#111" stroke-width="0.12">5</text>
<rect x="231.5" y="856.25" width="19" height="12" stroke="#333" stroke-width="1.2" fill="none"/>
<text x="241" y="865.71" font-size="9.6" font-weight="normal" text-anchor="middle" fill="#111"  stroke="#111" stroke-width="0.12">6</text>
<rect x="291.25" y="831" width="12.75" height="2.75" stroke="#333" stroke-width="1.2" fill="none"/>
<rect x="310.4" y="831" width="12.35" height="2.75" stroke="#333" stroke-width="1.2" fill="none"/>
<rect x="328.75" y="831" width="12.75" height="2.75" stroke="#333" stroke-width="1.2" fill="none"/>
<rect x="288.4" y="834" width="3.2" height="6.3" stroke="#333" stroke-width="1.2" fill="none"/>
<rect x="341.5" y="834" width="3.2" height="6.3" stroke="#333" stroke-width="1.2" fill="none"/>
<rect x="288.4" y="853.4" width="3.2" height="6.2" stroke="#333" stroke-width="1.2" fill="none"/>
<rect x="341.5" y="853.4" width="3.2" height="6.2" stroke="#333" stroke-width="1.2" fill="none"/>
<rect x="291.6" y="833.75" width="12.8" height="12.75" stroke="#333" stroke-width="1.2" fill="none"/>
<text x="298" y="843.58" font-size="9.6" font-weight="normal" text-anchor="middle" fill="#111"  stroke="#111" stroke-width="0.12">1</text>
<rect x="304.4" y="833.75" width="12.2" height="12.75" stroke="#333" stroke-width="1.2" fill="none"/>
<text x="310.5" y="843.58" font-size="9.6" font-weight="normal" text-anchor="middle" fill="#111"  stroke="#111" stroke-width="0.12">2</text>
<rect x="316.6" y="833.75" width="12.15" height="12.75" stroke="#333" stroke-width="1.2" fill="none"/>
<text x="322.68" y="843.58" font-size="9.6" font-weight="normal" text-anchor="middle" fill="#111"  stroke="#111" stroke-width="0.12">3</text>
<rect x="328.75" y="833.75" width="12.75" height="12.75" stroke="#333" stroke-width="1.2" fill="none"/>
<text x="335.12" y="843.58" font-size="9.6" font-weight="normal" text-anchor="middle" fill="#111"  stroke="#111" stroke-width="0.12">4</text>
<rect x="291.6" y="846.5" width="12.8" height="13.1" stroke="#333" stroke-width="1.2" fill="none"/>
<text x="298" y="856.51" font-size="9.6" font-weight="normal" text-anchor="middle" fill="#111"  stroke="#111" stroke-width="0.12">5</text>
<rect x="304.4" y="846.5" width="12.2" height="13.1" stroke="#333" stroke-width="1.2" fill="none"/>
<text x="310.5" y="856.51" font-size="9.6" font-weight="normal" text-anchor="middle" fill="#111"  stroke="#111" stroke-width="0.12">6</text>
<rect x="316.6" y="846.5" width="12.15" height="13.1" stroke="#333" stroke-width="1.2" fill="none"/>
<text x="322.68" y="856.51" font-size="9.6" font-weight="normal" text-anchor="middle" fill="#111"  stroke="#111" stroke-width="0.12">7</text>
<rect x="328.75" y="846.5" width="12.75" height="13.1" stroke="#333" stroke-width="1.2" fill="none"/>
<text x="335.12" y="856.51" font-size="9.6" font-weight="normal" text-anchor="middle" fill="#111"  stroke="#111" stroke-width="0.12">8</text>
<rect x="406.6" y="833.75" width="12.15" height="2.85" stroke="#333" stroke-width="1.2" fill="none"/>
<rect x="385.6" y="869.4" width="2.8" height="5.6" stroke="#333" stroke-width="1.2" fill="none"/>
<rect x="436.6" y="869.4" width="2.8" height="5.6" stroke="#333" stroke-width="1.2" fill="none"/>
<rect x="388.4" y="836.6" width="12.2" height="12.15" stroke="#333" stroke-width="1.2" fill="none"/>
<text x="394.5" y="846.13" font-size="9.6" font-weight="normal" text-anchor="middle" fill="#111"  stroke="#111" stroke-width="0.12">1</text>
<rect x="400.6" y="836.6" width="12" height="12.15" stroke="#333" stroke-width="1.2" fill="none"/>
<text x="406.6" y="846.13" font-size="9.6" font-weight="normal" text-anchor="middle" fill="#111"  stroke="#111" stroke-width="0.12">2</text>
<rect x="412.6" y="836.6" width="11.8" height="12.15" stroke="#333" stroke-width="1.2" fill="none"/>
<text x="418.5" y="846.13" font-size="9.6" font-weight="normal" text-anchor="middle" fill="#111"  stroke="#111" stroke-width="0.12">3</text>
<rect x="424.4" y="836.6" width="12.2" height="12.15" stroke="#333" stroke-width="1.2" fill="none"/>
<text x="430.5" y="846.13" font-size="9.6" font-weight="normal" text-anchor="middle" fill="#111"  stroke="#111" stroke-width="0.12">4</text>
<rect x="388.4" y="848.75" width="12.2" height="11.65" stroke="#333" stroke-width="1.2" fill="none"/>
<text x="394.5" y="858.03" font-size="9.6" font-weight="normal" text-anchor="middle" fill="#111"  stroke="#111" stroke-width="0.12">5</text>
<rect x="400.6" y="848.75" width="12" height="11.65" stroke="#333" stroke-width="1.2" fill="none"/>
<text x="406.6" y="858.03" font-size="9.6" font-weight="normal" text-anchor="middle" fill="#111"  stroke="#111" stroke-width="0.12">6</text>
<rect x="412.6" y="848.75" width="11.8" height="11.65" stroke="#333" stroke-width="1.2" fill="none"/>
<text x="418.5" y="858.03" font-size="9.6" font-weight="normal" text-anchor="middle" fill="#111"  stroke="#111" stroke-width="0.12">7</text>
<rect x="424.4" y="848.75" width="12.2" height="11.65" stroke="#333" stroke-width="1.2" fill="none"/>
<text x="430.5" y="858.03" font-size="9.6" font-weight="normal" text-anchor="middle" fill="#111"  stroke="#111" stroke-width="0.12">8</text>
<rect x="388.4" y="860.4" width="12.2" height="11.8" stroke="#333" stroke-width="1.2" fill="none"/>
<text x="394.5" y="869.76" font-size="9.6" font-weight="normal" text-anchor="middle" fill="#111"  stroke="#111" stroke-width="0.12">9</text>
<rect x="400.6" y="860.4" width="12" height="11.8" stroke="#333" stroke-width="1.2" fill="none"/>
<text x="406.6" y="869.76" font-size="9.6" font-weight="normal" text-anchor="middle" fill="#111" textLength="9.4" lengthAdjust="spacingAndGlyphs"  stroke="#111" stroke-width="0.12">10</text>
<rect x="412.6" y="860.4" width="11.8" height="11.8" stroke="#333" stroke-width="1.2" fill="none"/>
<text x="418.5" y="869.76" font-size="9.6" font-weight="normal" text-anchor="middle" fill="#111" textLength="9.4" lengthAdjust="spacingAndGlyphs"  stroke="#111" stroke-width="0.12">11</text>
<rect x="424.4" y="860.4" width="12.2" height="11.8" stroke="#333" stroke-width="1.2" fill="none"/>
<text x="430.5" y="869.76" font-size="9.6" font-weight="normal" text-anchor="middle" fill="#111" textLength="9.4" lengthAdjust="spacingAndGlyphs"  stroke="#111" stroke-width="0.12">12</text>
<rect x="388.4" y="872.2" width="12.2" height="12.2" stroke="#333" stroke-width="1.2" fill="none"/>
<text x="394.5" y="881.76" font-size="9.6" font-weight="normal" text-anchor="middle" fill="#111" textLength="9.4" lengthAdjust="spacingAndGlyphs"  stroke="#111" stroke-width="0.12">13</text>
<rect x="400.6" y="872.2" width="12" height="12.2" stroke="#333" stroke-width="1.2" fill="none"/>
<text x="406.6" y="881.76" font-size="9.6" font-weight="normal" text-anchor="middle" fill="#111" textLength="9.4" lengthAdjust="spacingAndGlyphs"  stroke="#111" stroke-width="0.12">14</text>
<rect x="412.6" y="872.2" width="11.8" height="12.2" stroke="#333" stroke-width="1.2" fill="none"/>
<text x="418.5" y="881.76" font-size="9.6" font-weight="normal" text-anchor="middle" fill="#111" textLength="9.4" lengthAdjust="spacingAndGlyphs"  stroke="#111" stroke-width="0.12">15</text>
<rect x="424.4" y="872.2" width="12.2" height="12.2" stroke="#333" stroke-width="1.2" fill="none"/>
<text x="430.5" y="881.76" font-size="9.6" font-weight="normal" text-anchor="middle" fill="#111" textLength="9.4" lengthAdjust="spacingAndGlyphs"  stroke="#111" stroke-width="0.12">16</text>
<rect x="490.8" y="831.2" width="18.7" height="12.5" stroke="#333" stroke-width="1.2" fill="none"/>
<text x="500.15" y="840.91" font-size="9.6" font-weight="normal" text-anchor="middle" fill="#111"  stroke="#111" stroke-width="0.12">1</text>
<rect x="509.5" y="831.2" width="18.7" height="12.5" stroke="#333" stroke-width="1.2" fill="none"/>
<text x="518.85" y="840.91" font-size="9.6" font-weight="normal" text-anchor="middle" fill="#111"  stroke="#111" stroke-width="0.12">2</text>
<rect x="528.2" y="831.2" width="18.7" height="12.5" stroke="#333" stroke-width="1.2" fill="none"/>
<text x="537.55" y="840.91" font-size="9.6" font-weight="normal" text-anchor="middle" fill="#111"  stroke="#111" stroke-width="0.12">3</text>
<rect x="546.9" y="831.2" width="18.7" height="12.5" stroke="#333" stroke-width="1.2" fill="none"/>
<text x="556.25" y="840.91" font-size="9.6" font-weight="normal" text-anchor="middle" fill="#111"  stroke="#111" stroke-width="0.12">4</text>
<rect x="565.6" y="831.2" width="18.7" height="12.5" stroke="#333" stroke-width="1.2" fill="none"/>
<text x="574.95" y="840.91" font-size="9.6" font-weight="normal" text-anchor="middle" fill="#111"  stroke="#111" stroke-width="0.12">5</text>
<rect x="584.3" y="831.2" width="18.7" height="12.5" stroke="#333" stroke-width="1.2" fill="none"/>
<text x="593.65" y="840.91" font-size="9.6" font-weight="normal" text-anchor="middle" fill="#111"  stroke="#111" stroke-width="0.12">6</text>
<rect x="603" y="831.2" width="18.7" height="12.5" stroke="#333" stroke-width="1.2" fill="none"/>
<text x="612.35" y="840.91" font-size="9.6" font-weight="normal" text-anchor="middle" fill="#111"  stroke="#111" stroke-width="0.12">7</text>
<rect x="490.8" y="843.7" width="12.5" height="12.5" stroke="#333" stroke-width="1.2" fill="none"/>
<text x="497.05" y="853.41" font-size="9.6" font-weight="normal" text-anchor="middle" fill="#111"  stroke="#111" stroke-width="0.12">8</text>
<rect x="503.3" y="843.7" width="12.5" height="12.5" stroke="#333" stroke-width="1.2" fill="none"/>
<text x="509.55" y="853.41" font-size="9.6" font-weight="normal" text-anchor="middle" fill="#111"  stroke="#111" stroke-width="0.12">9</text>
<rect x="518.3" y="843.7" width="12.5" height="12.5" stroke="#333" stroke-width="1.2" fill="none"/>
<text x="524.55" y="853.41" font-size="9.6" font-weight="normal" text-anchor="middle" fill="#111" textLength="9.4" lengthAdjust="spacingAndGlyphs"  stroke="#111" stroke-width="0.12">10</text>
<rect x="530.8" y="843.7" width="12.5" height="12.5" stroke="#333" stroke-width="1.2" fill="none"/>
<text x="537.05" y="853.41" font-size="9.6" font-weight="normal" text-anchor="middle" fill="#111" textLength="9.4" lengthAdjust="spacingAndGlyphs"  stroke="#111" stroke-width="0.12">11</text>
<rect x="546.3" y="843.7" width="12.57" height="12.5" stroke="#333" stroke-width="1.2" fill="none"/>
<text x="552.59" y="853.41" font-size="9.6" font-weight="normal" text-anchor="middle" fill="#111" textLength="9.4" lengthAdjust="spacingAndGlyphs"  stroke="#111" stroke-width="0.12">12</text>
<rect x="558.87" y="843.7" width="12.57" height="12.5" stroke="#333" stroke-width="1.2" fill="none"/>
<text x="565.15" y="853.41" font-size="9.6" font-weight="normal" text-anchor="middle" fill="#111" textLength="9.4" lengthAdjust="spacingAndGlyphs"  stroke="#111" stroke-width="0.12">13</text>
<rect x="571.44" y="843.7" width="12.57" height="12.5" stroke="#333" stroke-width="1.2" fill="none"/>
<text x="577.72" y="853.41" font-size="9.6" font-weight="normal" text-anchor="middle" fill="#111" textLength="9.4" lengthAdjust="spacingAndGlyphs"  stroke="#111" stroke-width="0.12">14</text>
<rect x="584.01" y="843.7" width="12.57" height="12.5" stroke="#333" stroke-width="1.2" fill="none"/>
<text x="590.29" y="853.41" font-size="9.6" font-weight="normal" text-anchor="middle" fill="#111" textLength="9.4" lengthAdjust="spacingAndGlyphs"  stroke="#111" stroke-width="0.12">15</text>
<rect x="596.58" y="843.7" width="12.57" height="12.5" stroke="#333" stroke-width="1.2" fill="none"/>
<text x="602.87" y="853.41" font-size="9.6" font-weight="normal" text-anchor="middle" fill="#111" textLength="9.4" lengthAdjust="spacingAndGlyphs"  stroke="#111" stroke-width="0.12">16</text>
<rect x="609.15" y="843.7" width="12.57" height="12.5" stroke="#333" stroke-width="1.2" fill="none"/>
<text x="615.43" y="853.41" font-size="9.6" font-weight="normal" text-anchor="middle" fill="#111" textLength="9.4" lengthAdjust="spacingAndGlyphs"  stroke="#111" stroke-width="0.12">17</text>
<rect x="490.8" y="856.2" width="12.5" height="12.1" stroke="#333" stroke-width="1.2" fill="none"/>
<text x="497.05" y="865.71" font-size="9.6" font-weight="normal" text-anchor="middle" fill="#111" textLength="9.4" lengthAdjust="spacingAndGlyphs"  stroke="#111" stroke-width="0.12">18</text>
<rect x="503.3" y="856.2" width="12.5" height="12.1" stroke="#333" stroke-width="1.2" fill="none"/>
<text x="509.55" y="865.71" font-size="9.6" font-weight="normal" text-anchor="middle" fill="#111" textLength="9.4" lengthAdjust="spacingAndGlyphs"  stroke="#111" stroke-width="0.12">19</text>
<rect x="518.3" y="856.2" width="12.5" height="12.1" stroke="#333" stroke-width="1.2" fill="none"/>
<text x="524.55" y="865.71" font-size="9.6" font-weight="normal" text-anchor="middle" fill="#111" textLength="9.4" lengthAdjust="spacingAndGlyphs"  stroke="#111" stroke-width="0.12">20</text>
<rect x="530.8" y="856.2" width="12.5" height="12.1" stroke="#333" stroke-width="1.2" fill="none"/>
<text x="537.05" y="865.71" font-size="9.6" font-weight="normal" text-anchor="middle" fill="#111" textLength="9.4" lengthAdjust="spacingAndGlyphs"  stroke="#111" stroke-width="0.12">21</text>
<rect x="546.3" y="856.2" width="12.57" height="12.1" stroke="#333" stroke-width="1.2" fill="none"/>
<text x="552.59" y="865.71" font-size="9.6" font-weight="normal" text-anchor="middle" fill="#111" textLength="9.4" lengthAdjust="spacingAndGlyphs"  stroke="#111" stroke-width="0.12">22</text>
<rect x="558.87" y="856.2" width="12.57" height="12.1" stroke="#333" stroke-width="1.2" fill="none"/>
<text x="565.15" y="865.71" font-size="9.6" font-weight="normal" text-anchor="middle" fill="#111" textLength="9.4" lengthAdjust="spacingAndGlyphs"  stroke="#111" stroke-width="0.12">23</text>
<rect x="596.58" y="856.2" width="12.57" height="12.1" stroke="#333" stroke-width="1.2" fill="none"/>
<text x="602.87" y="865.71" font-size="9.6" font-weight="normal" text-anchor="middle" fill="#111" textLength="9.4" lengthAdjust="spacingAndGlyphs"  stroke="#111" stroke-width="0.12">24</text>
<rect x="609.15" y="856.2" width="12.57" height="12.1" stroke="#333" stroke-width="1.2" fill="none"/>
<text x="615.43" y="865.71" font-size="9.6" font-weight="normal" text-anchor="middle" fill="#111" textLength="9.4" lengthAdjust="spacingAndGlyphs"  stroke="#111" stroke-width="0.12">25</text>
<rect x="490.8" y="868.3" width="12.5" height="12.9" stroke="#333" stroke-width="1.2" fill="none"/>
<text x="497.05" y="878.21" font-size="9.6" font-weight="normal" text-anchor="middle" fill="#111" textLength="9.4" lengthAdjust="spacingAndGlyphs"  stroke="#111" stroke-width="0.12">26</text>
<rect x="503.3" y="868.3" width="12.5" height="12.9" stroke="#333" stroke-width="1.2" fill="none"/>
<text x="509.55" y="878.21" font-size="9.6" font-weight="normal" text-anchor="middle" fill="#111" textLength="9.4" lengthAdjust="spacingAndGlyphs"  stroke="#111" stroke-width="0.12">27</text>
<rect x="546.3" y="868.3" width="12.57" height="12.9" stroke="#333" stroke-width="1.2" fill="none"/>
<text x="552.59" y="878.21" font-size="9.6" font-weight="normal" text-anchor="middle" fill="#111" textLength="9.4" lengthAdjust="spacingAndGlyphs"  stroke="#111" stroke-width="0.12">28</text>
<rect x="558.87" y="868.3" width="12.57" height="12.9" stroke="#333" stroke-width="1.2" fill="none"/>
<text x="565.15" y="878.21" font-size="9.6" font-weight="normal" text-anchor="middle" fill="#111" textLength="9.4" lengthAdjust="spacingAndGlyphs"  stroke="#111" stroke-width="0.12">29</text>
<rect x="596.58" y="868.3" width="12.57" height="12.9" stroke="#333" stroke-width="1.2" fill="none"/>
<text x="602.87" y="878.21" font-size="9.6" font-weight="normal" text-anchor="middle" fill="#111" textLength="9.4" lengthAdjust="spacingAndGlyphs"  stroke="#111" stroke-width="0.12">30</text>
<rect x="609.15" y="868.3" width="12.57" height="12.9" stroke="#333" stroke-width="1.2" fill="none"/>
<text x="615.43" y="878.21" font-size="9.6" font-weight="normal" text-anchor="middle" fill="#111" textLength="9.4" lengthAdjust="spacingAndGlyphs"  stroke="#111" stroke-width="0.12">31</text>
<rect x="123.75" y="933.3" width="18.68" height="12" stroke="#333" stroke-width="1.2" fill="none"/>
<text x="133.09" y="942.76" font-size="9.6" font-weight="normal" text-anchor="middle" fill="#111"  stroke="#111" stroke-width="0.12">1</text>
<rect x="142.43" y="933.3" width="18.68" height="12" stroke="#333" stroke-width="1.2" fill="none"/>
<text x="151.77" y="942.76" font-size="9.6" font-weight="normal" text-anchor="middle" fill="#111"  stroke="#111" stroke-width="0.12">2</text>
<rect x="161.11" y="933.3" width="18.68" height="12" stroke="#333" stroke-width="1.2" fill="none"/>
<text x="170.45" y="942.76" font-size="9.6" font-weight="normal" text-anchor="middle" fill="#111"  stroke="#111" stroke-width="0.12">3</text>
<rect x="179.79" y="933.3" width="18.68" height="12" stroke="#333" stroke-width="1.2" fill="none"/>
<text x="189.12" y="942.76" font-size="9.6" font-weight="normal" text-anchor="middle" fill="#111"  stroke="#111" stroke-width="0.12">4</text>
<rect x="198.46" y="933.3" width="18.68" height="12" stroke="#333" stroke-width="1.2" fill="none"/>
<text x="207.8" y="942.76" font-size="9.6" font-weight="normal" text-anchor="middle" fill="#111"  stroke="#111" stroke-width="0.12">5</text>
<rect x="217.14" y="933.3" width="18.68" height="12" stroke="#333" stroke-width="1.2" fill="none"/>
<text x="226.48" y="942.76" font-size="9.6" font-weight="normal" text-anchor="middle" fill="#111"  stroke="#111" stroke-width="0.12">6</text>
<rect x="235.82" y="933.3" width="18.68" height="12" stroke="#333" stroke-width="1.2" fill="none"/>
<text x="245.16" y="942.76" font-size="9.6" font-weight="normal" text-anchor="middle" fill="#111"  stroke="#111" stroke-width="0.12">7</text>
<rect x="123.75" y="945.3" width="12.57" height="13" stroke="#333" stroke-width="1.2" fill="none"/>
<text x="130.03" y="955.26" font-size="9.6" font-weight="normal" text-anchor="middle" fill="#111"  stroke="#111" stroke-width="0.12">8</text>
<rect x="136.32" y="945.3" width="12.57" height="13" stroke="#333" stroke-width="1.2" fill="none"/>
<text x="142.6" y="955.26" font-size="9.6" font-weight="normal" text-anchor="middle" fill="#111"  stroke="#111" stroke-width="0.12">9</text>
<rect x="148.89" y="945.3" width="12.57" height="13" stroke="#333" stroke-width="1.2" fill="none"/>
<text x="155.18" y="955.26" font-size="9.6" font-weight="normal" text-anchor="middle" fill="#111" textLength="9.4" lengthAdjust="spacingAndGlyphs"  stroke="#111" stroke-width="0.12">10</text>
<rect x="161.46" y="945.3" width="12.57" height="13" stroke="#333" stroke-width="1.2" fill="none"/>
<text x="167.75" y="955.26" font-size="9.6" font-weight="normal" text-anchor="middle" fill="#111" textLength="9.4" lengthAdjust="spacingAndGlyphs"  stroke="#111" stroke-width="0.12">11</text>
<rect x="174.03" y="945.3" width="12.57" height="13" stroke="#333" stroke-width="1.2" fill="none"/>
<text x="180.31" y="955.26" font-size="9.6" font-weight="normal" text-anchor="middle" fill="#111" textLength="9.4" lengthAdjust="spacingAndGlyphs"  stroke="#111" stroke-width="0.12">12</text>
<rect x="188.9" y="945.3" width="12.5" height="13" stroke="#333" stroke-width="1.2" fill="none"/>
<text x="195.15" y="955.26" font-size="9.6" font-weight="normal" text-anchor="middle" fill="#111" textLength="9.4" lengthAdjust="spacingAndGlyphs"  stroke="#111" stroke-width="0.12">13</text>
<rect x="201.4" y="945.3" width="12.5" height="13" stroke="#333" stroke-width="1.2" fill="none"/>
<text x="207.65" y="955.26" font-size="9.6" font-weight="normal" text-anchor="middle" fill="#111" textLength="9.4" lengthAdjust="spacingAndGlyphs"  stroke="#111" stroke-width="0.12">14</text>
<rect x="213.9" y="945.3" width="12.5" height="13" stroke="#333" stroke-width="1.2" fill="none"/>
<text x="220.15" y="955.26" font-size="9.6" font-weight="normal" text-anchor="middle" fill="#111" textLength="9.4" lengthAdjust="spacingAndGlyphs"  stroke="#111" stroke-width="0.12">15</text>
<rect x="229.5" y="945.3" width="12.5" height="13" stroke="#333" stroke-width="1.2" fill="none"/>
<text x="235.75" y="955.26" font-size="9.6" font-weight="normal" text-anchor="middle" fill="#111" textLength="9.4" lengthAdjust="spacingAndGlyphs"  stroke="#111" stroke-width="0.12">16</text>
<rect x="242" y="945.3" width="12.5" height="13" stroke="#333" stroke-width="1.2" fill="none"/>
<text x="248.25" y="955.26" font-size="9.6" font-weight="normal" text-anchor="middle" fill="#111" textLength="9.4" lengthAdjust="spacingAndGlyphs"  stroke="#111" stroke-width="0.12">17</text>
<rect x="123.75" y="958.3" width="12.57" height="12.5" stroke="#333" stroke-width="1.2" fill="none"/>
<text x="130.03" y="968.01" font-size="9.6" font-weight="normal" text-anchor="middle" fill="#111" textLength="9.4" lengthAdjust="spacingAndGlyphs"  stroke="#111" stroke-width="0.12">18</text>
<rect x="136.32" y="958.3" width="12.57" height="12.5" stroke="#333" stroke-width="1.2" fill="none"/>
<text x="142.6" y="968.01" font-size="9.6" font-weight="normal" text-anchor="middle" fill="#111" textLength="9.4" lengthAdjust="spacingAndGlyphs"  stroke="#111" stroke-width="0.12">19</text>
<rect x="148.89" y="958.3" width="12.57" height="12.5" stroke="#333" stroke-width="1.2" fill="none"/>
<text x="155.18" y="968.01" font-size="9.6" font-weight="normal" text-anchor="middle" fill="#111" textLength="9.4" lengthAdjust="spacingAndGlyphs"  stroke="#111" stroke-width="0.12">20</text>
<rect x="161.46" y="958.3" width="12.57" height="12.5" stroke="#333" stroke-width="1.2" fill="none"/>
<text x="167.75" y="968.01" font-size="9.6" font-weight="normal" text-anchor="middle" fill="#111" textLength="9.4" lengthAdjust="spacingAndGlyphs"  stroke="#111" stroke-width="0.12">21</text>
<rect x="174.03" y="958.3" width="12.57" height="12.5" stroke="#333" stroke-width="1.2" fill="none"/>
<text x="180.31" y="968.01" font-size="9.6" font-weight="normal" text-anchor="middle" fill="#111" textLength="9.4" lengthAdjust="spacingAndGlyphs"  stroke="#111" stroke-width="0.12">22</text>
<rect x="188.9" y="958.3" width="12.5" height="12.5" stroke="#333" stroke-width="1.2" fill="none"/>
<text x="195.15" y="968.01" font-size="9.6" font-weight="normal" text-anchor="middle" fill="#111" textLength="9.4" lengthAdjust="spacingAndGlyphs"  stroke="#111" stroke-width="0.12">23</text>
<rect x="201.4" y="958.3" width="12.5" height="12.5" stroke="#333" stroke-width="1.2" fill="none"/>
<text x="207.65" y="968.01" font-size="9.6" font-weight="normal" text-anchor="middle" fill="#111" textLength="9.4" lengthAdjust="spacingAndGlyphs"  stroke="#111" stroke-width="0.12">24</text>
<rect x="213.9" y="958.3" width="12.5" height="12.5" stroke="#333" stroke-width="1.2" fill="none"/>
<text x="220.15" y="968.01" font-size="9.6" font-weight="normal" text-anchor="middle" fill="#111" textLength="9.4" lengthAdjust="spacingAndGlyphs"  stroke="#111" stroke-width="0.12">25</text>
<rect x="229.5" y="958.3" width="12.5" height="12.5" stroke="#333" stroke-width="1.2" fill="none"/>
<text x="235.75" y="968.01" font-size="9.6" font-weight="normal" text-anchor="middle" fill="#111" textLength="9.4" lengthAdjust="spacingAndGlyphs"  stroke="#111" stroke-width="0.12">26</text>
<rect x="242" y="958.3" width="12.5" height="12.5" stroke="#333" stroke-width="1.2" fill="none"/>
<text x="248.25" y="968.01" font-size="9.6" font-weight="normal" text-anchor="middle" fill="#111" textLength="9.4" lengthAdjust="spacingAndGlyphs"  stroke="#111" stroke-width="0.12">27</text>
<rect x="123.75" y="970.8" width="12.57" height="12.5" stroke="#333" stroke-width="1.2" fill="none"/>
<text x="130.03" y="980.51" font-size="9.6" font-weight="normal" text-anchor="middle" fill="#111" textLength="9.4" lengthAdjust="spacingAndGlyphs"  stroke="#111" stroke-width="0.12">28</text>
<rect x="136.32" y="970.8" width="12.57" height="12.5" stroke="#333" stroke-width="1.2" fill="none"/>
<text x="142.6" y="980.51" font-size="9.6" font-weight="normal" text-anchor="middle" fill="#111" textLength="9.4" lengthAdjust="spacingAndGlyphs"  stroke="#111" stroke-width="0.12">29</text>
<rect x="148.89" y="970.8" width="12.57" height="12.5" stroke="#333" stroke-width="1.2" fill="none"/>
<text x="155.18" y="980.51" font-size="9.6" font-weight="normal" text-anchor="middle" fill="#111" textLength="9.4" lengthAdjust="spacingAndGlyphs"  stroke="#111" stroke-width="0.12">30</text>
<rect x="161.46" y="970.8" width="12.57" height="12.5" stroke="#333" stroke-width="1.2" fill="none"/>
<text x="167.75" y="980.51" font-size="9.6" font-weight="normal" text-anchor="middle" fill="#111" textLength="9.4" lengthAdjust="spacingAndGlyphs"  stroke="#111" stroke-width="0.12">31</text>
<rect x="174.03" y="970.8" width="12.57" height="12.5" stroke="#333" stroke-width="1.2" fill="none"/>
<text x="180.31" y="980.51" font-size="9.6" font-weight="normal" text-anchor="middle" fill="#111" textLength="9.4" lengthAdjust="spacingAndGlyphs"  stroke="#111" stroke-width="0.12">32</text>
<rect x="229.5" y="970.8" width="12.5" height="12.5" stroke="#333" stroke-width="1.2" fill="none"/>
<text x="235.75" y="980.51" font-size="9.6" font-weight="normal" text-anchor="middle" fill="#111" textLength="9.4" lengthAdjust="spacingAndGlyphs"  stroke="#111" stroke-width="0.12">33</text>
<rect x="242" y="970.8" width="12.5" height="12.5" stroke="#333" stroke-width="1.2" fill="none"/>
<text x="248.25" y="980.51" font-size="9.6" font-weight="normal" text-anchor="middle" fill="#111" textLength="9.4" lengthAdjust="spacingAndGlyphs"  stroke="#111" stroke-width="0.12">34</text>
<rect x="298.85" y="933.1" width="18.6" height="12.9" stroke="#333" stroke-width="1.2" fill="none"/>
<text x="308.15" y="943.01" font-size="9.6" font-weight="normal" text-anchor="middle" fill="#111"  stroke="#111" stroke-width="0.12">1</text>
<rect x="317.45" y="933.1" width="18.6" height="12.9" stroke="#333" stroke-width="1.2" fill="none"/>
<text x="326.75" y="943.01" font-size="9.6" font-weight="normal" text-anchor="middle" fill="#111"  stroke="#111" stroke-width="0.12">2</text>
<rect x="354.6" y="933.1" width="18.6" height="12.9" stroke="#333" stroke-width="1.2" fill="none"/>
<text x="363.9" y="943.01" font-size="9.6" font-weight="normal" text-anchor="middle" fill="#111"  stroke="#111" stroke-width="0.12">3</text>
<rect x="373.2" y="933.1" width="18.6" height="12.9" stroke="#333" stroke-width="1.2" fill="none"/>
<text x="382.5" y="943.01" font-size="9.6" font-weight="normal" text-anchor="middle" fill="#111"  stroke="#111" stroke-width="0.12">4</text>
<rect x="391.8" y="933.1" width="18.6" height="12.9" stroke="#333" stroke-width="1.2" fill="none"/>
<text x="401.1" y="943.01" font-size="9.6" font-weight="normal" text-anchor="middle" fill="#111"  stroke="#111" stroke-width="0.12">5</text>
<rect x="410.4" y="933.1" width="18.6" height="12.9" stroke="#333" stroke-width="1.2" fill="none"/>
<text x="419.7" y="943.01" font-size="9.6" font-weight="normal" text-anchor="middle" fill="#111"  stroke="#111" stroke-width="0.12">6</text>
<rect x="429" y="933.1" width="18.6" height="12.9" stroke="#333" stroke-width="1.2" fill="none"/>
<text x="438.3" y="943.01" font-size="9.6" font-weight="normal" text-anchor="middle" fill="#111"  stroke="#111" stroke-width="0.12">7</text>
<rect x="298.85" y="946" width="12.4" height="12.4" stroke="#333" stroke-width="1.2" fill="none"/>
<text x="305.05" y="955.66" font-size="9.6" font-weight="normal" text-anchor="middle" fill="#111"  stroke="#111" stroke-width="0.12">8</text>
<rect x="311.25" y="946" width="12.4" height="12.4" stroke="#333" stroke-width="1.2" fill="none"/>
<text x="317.44" y="955.66" font-size="9.6" font-weight="normal" text-anchor="middle" fill="#111"  stroke="#111" stroke-width="0.12">9</text>
<rect x="323.64" y="946" width="12.4" height="12.4" stroke="#333" stroke-width="1.2" fill="none"/>
<text x="329.84" y="955.66" font-size="9.6" font-weight="normal" text-anchor="middle" fill="#111" textLength="9.4" lengthAdjust="spacingAndGlyphs"  stroke="#111" stroke-width="0.12">10</text>
<rect x="336.04" y="946" width="12.4" height="12.4" stroke="#333" stroke-width="1.2" fill="none"/>
<text x="342.24" y="955.66" font-size="9.6" font-weight="normal" text-anchor="middle" fill="#111" textLength="9.4" lengthAdjust="spacingAndGlyphs"  stroke="#111" stroke-width="0.12">11</text>
<rect x="348.43" y="946" width="12.4" height="12.4" stroke="#333" stroke-width="1.2" fill="none"/>
<text x="354.63" y="955.66" font-size="9.6" font-weight="normal" text-anchor="middle" fill="#111" textLength="9.4" lengthAdjust="spacingAndGlyphs"  stroke="#111" stroke-width="0.12">12</text>
<rect x="360.83" y="946" width="12.4" height="12.4" stroke="#333" stroke-width="1.2" fill="none"/>
<text x="367.03" y="955.66" font-size="9.6" font-weight="normal" text-anchor="middle" fill="#111" textLength="9.4" lengthAdjust="spacingAndGlyphs"  stroke="#111" stroke-width="0.12">13</text>
<rect x="373.23" y="946" width="12.4" height="12.4" stroke="#333" stroke-width="1.2" fill="none"/>
<text x="379.42" y="955.66" font-size="9.6" font-weight="normal" text-anchor="middle" fill="#111" textLength="9.4" lengthAdjust="spacingAndGlyphs"  stroke="#111" stroke-width="0.12">14</text>
<rect x="385.62" y="946" width="12.4" height="12.4" stroke="#333" stroke-width="1.2" fill="none"/>
<text x="391.82" y="955.66" font-size="9.6" font-weight="normal" text-anchor="middle" fill="#111" textLength="9.4" lengthAdjust="spacingAndGlyphs"  stroke="#111" stroke-width="0.12">15</text>
<rect x="398.02" y="946" width="12.4" height="12.4" stroke="#333" stroke-width="1.2" fill="none"/>
<text x="404.22" y="955.66" font-size="9.6" font-weight="normal" text-anchor="middle" fill="#111" textLength="9.4" lengthAdjust="spacingAndGlyphs"  stroke="#111" stroke-width="0.12">16</text>
<rect x="410.41" y="946" width="12.4" height="12.4" stroke="#333" stroke-width="1.2" fill="none"/>
<text x="416.61" y="955.66" font-size="9.6" font-weight="normal" text-anchor="middle" fill="#111" textLength="9.4" lengthAdjust="spacingAndGlyphs"  stroke="#111" stroke-width="0.12">17</text>
<rect x="422.81" y="946" width="12.4" height="12.4" stroke="#333" stroke-width="1.2" fill="none"/>
<text x="429.01" y="955.66" font-size="9.6" font-weight="normal" text-anchor="middle" fill="#111" textLength="9.4" lengthAdjust="spacingAndGlyphs"  stroke="#111" stroke-width="0.12">18</text>
<rect x="435.21" y="946" width="12.4" height="12.4" stroke="#333" stroke-width="1.2" fill="none"/>
<text x="441.4" y="955.66" font-size="9.6" font-weight="normal" text-anchor="middle" fill="#111" textLength="9.4" lengthAdjust="spacingAndGlyphs"  stroke="#111" stroke-width="0.12">19</text>
<rect x="298.85" y="958.4" width="12.4" height="12.4" stroke="#333" stroke-width="1.2" fill="none"/>
<text x="305.05" y="968.06" font-size="9.6" font-weight="normal" text-anchor="middle" fill="#111" textLength="9.4" lengthAdjust="spacingAndGlyphs"  stroke="#111" stroke-width="0.12">20</text>
<rect x="311.25" y="958.4" width="12.4" height="12.4" stroke="#333" stroke-width="1.2" fill="none"/>
<text x="317.44" y="968.06" font-size="9.6" font-weight="normal" text-anchor="middle" fill="#111" textLength="9.4" lengthAdjust="spacingAndGlyphs"  stroke="#111" stroke-width="0.12">21</text>
<rect x="323.64" y="958.4" width="12.4" height="12.4" stroke="#333" stroke-width="1.2" fill="none"/>
<text x="329.84" y="968.06" font-size="9.6" font-weight="normal" text-anchor="middle" fill="#111" textLength="9.4" lengthAdjust="spacingAndGlyphs"  stroke="#111" stroke-width="0.12">22</text>
<rect x="336.04" y="958.4" width="12.4" height="12.4" stroke="#333" stroke-width="1.2" fill="none"/>
<text x="342.24" y="968.06" font-size="9.6" font-weight="normal" text-anchor="middle" fill="#111" textLength="9.4" lengthAdjust="spacingAndGlyphs"  stroke="#111" stroke-width="0.12">23</text>
<rect x="373.23" y="958.4" width="12.4" height="12.4" stroke="#333" stroke-width="1.2" fill="none"/>
<text x="379.42" y="968.06" font-size="9.6" font-weight="normal" text-anchor="middle" fill="#111" textLength="9.4" lengthAdjust="spacingAndGlyphs"  stroke="#111" stroke-width="0.12">24</text>
<rect x="385.62" y="958.4" width="12.4" height="12.4" stroke="#333" stroke-width="1.2" fill="none"/>
<text x="391.82" y="968.06" font-size="9.6" font-weight="normal" text-anchor="middle" fill="#111" textLength="9.4" lengthAdjust="spacingAndGlyphs"  stroke="#111" stroke-width="0.12">25</text>
<rect x="422.81" y="958.4" width="12.4" height="12.4" stroke="#333" stroke-width="1.2" fill="none"/>
<text x="429.01" y="968.06" font-size="9.6" font-weight="normal" text-anchor="middle" fill="#111" textLength="9.4" lengthAdjust="spacingAndGlyphs"  stroke="#111" stroke-width="0.12">26</text>
<rect x="435.21" y="958.4" width="12.4" height="12.4" stroke="#333" stroke-width="1.2" fill="none"/>
<text x="441.4" y="968.06" font-size="9.6" font-weight="normal" text-anchor="middle" fill="#111" textLength="9.4" lengthAdjust="spacingAndGlyphs"  stroke="#111" stroke-width="0.12">27</text>
<rect x="298.85" y="970.8" width="12.4" height="12.4" stroke="#333" stroke-width="1.2" fill="none"/>
<text x="305.05" y="980.46" font-size="9.6" font-weight="normal" text-anchor="middle" fill="#111" textLength="9.4" lengthAdjust="spacingAndGlyphs"  stroke="#111" stroke-width="0.12">28</text>
<rect x="311.25" y="970.8" width="12.4" height="12.4" stroke="#333" stroke-width="1.2" fill="none"/>
<text x="317.44" y="980.46" font-size="9.6" font-weight="normal" text-anchor="middle" fill="#111" textLength="9.4" lengthAdjust="spacingAndGlyphs"  stroke="#111" stroke-width="0.12">29</text>
<rect x="323.64" y="970.8" width="12.4" height="12.4" stroke="#333" stroke-width="1.2" fill="none"/>
<text x="329.84" y="980.46" font-size="9.6" font-weight="normal" text-anchor="middle" fill="#111" textLength="9.4" lengthAdjust="spacingAndGlyphs"  stroke="#111" stroke-width="0.12">30</text>
<rect x="336.04" y="970.8" width="12.4" height="12.4" stroke="#333" stroke-width="1.2" fill="none"/>
<text x="342.24" y="980.46" font-size="9.6" font-weight="normal" text-anchor="middle" fill="#111" textLength="9.4" lengthAdjust="spacingAndGlyphs"  stroke="#111" stroke-width="0.12">31</text>
<rect x="373.23" y="970.8" width="12.4" height="12.4" stroke="#333" stroke-width="1.2" fill="none"/>
<text x="379.42" y="980.46" font-size="9.6" font-weight="normal" text-anchor="middle" fill="#111" textLength="9.4" lengthAdjust="spacingAndGlyphs"  stroke="#111" stroke-width="0.12">32</text>
<rect x="385.62" y="970.8" width="12.4" height="12.4" stroke="#333" stroke-width="1.2" fill="none"/>
<text x="391.82" y="980.46" font-size="9.6" font-weight="normal" text-anchor="middle" fill="#111" textLength="9.4" lengthAdjust="spacingAndGlyphs"  stroke="#111" stroke-width="0.12">33</text>
<rect x="422.81" y="970.8" width="12.4" height="12.4" stroke="#333" stroke-width="1.2" fill="none"/>
<text x="429.01" y="980.46" font-size="9.6" font-weight="normal" text-anchor="middle" fill="#111" textLength="9.4" lengthAdjust="spacingAndGlyphs"  stroke="#111" stroke-width="0.12">34</text>
<rect x="435.21" y="970.8" width="12.4" height="12.4" stroke="#333" stroke-width="1.2" fill="none"/>
<text x="441.4" y="980.46" font-size="9.6" font-weight="normal" text-anchor="middle" fill="#111" textLength="9.4" lengthAdjust="spacingAndGlyphs"  stroke="#111" stroke-width="0.12">35</text>
<rect x="499.2" y="933.3" width="18.65" height="12" stroke="#333" stroke-width="1.2" fill="none"/>
<text x="508.52" y="942.76" font-size="9.6" font-weight="normal" text-anchor="middle" fill="#111"  stroke="#111" stroke-width="0.12">1</text>
<rect x="517.85" y="933.3" width="18.65" height="12" stroke="#333" stroke-width="1.2" fill="none"/>
<text x="527.17" y="942.76" font-size="9.6" font-weight="normal" text-anchor="middle" fill="#111"  stroke="#111" stroke-width="0.12">2</text>
<rect x="536.5" y="933.3" width="18.65" height="12" stroke="#333" stroke-width="1.2" fill="none"/>
<text x="545.83" y="942.76" font-size="9.6" font-weight="normal" text-anchor="middle" fill="#111"  stroke="#111" stroke-width="0.12">3</text>
<rect x="555.15" y="933.3" width="18.65" height="12" stroke="#333" stroke-width="1.2" fill="none"/>
<text x="564.47" y="942.76" font-size="9.6" font-weight="normal" text-anchor="middle" fill="#111"  stroke="#111" stroke-width="0.12">4</text>
<rect x="586.2" y="933.3" width="18.75" height="12" stroke="#333" stroke-width="1.2" fill="none"/>
<text x="595.58" y="942.76" font-size="9.6" font-weight="normal" text-anchor="middle" fill="#111"  stroke="#111" stroke-width="0.12">5</text>
<rect x="604.95" y="933.3" width="18.75" height="12" stroke="#333" stroke-width="1.2" fill="none"/>
<text x="614.33" y="942.76" font-size="9.6" font-weight="normal" text-anchor="middle" fill="#111"  stroke="#111" stroke-width="0.12">6</text>
<rect x="499.2" y="945.3" width="12.45" height="12.7" stroke="#333" stroke-width="1.2" fill="none"/>
<text x="505.42" y="955.11" font-size="9.6" font-weight="normal" text-anchor="middle" fill="#111"  stroke="#111" stroke-width="0.12">7</text>
<rect x="511.65" y="945.3" width="12.45" height="12.7" stroke="#333" stroke-width="1.2" fill="none"/>
<text x="517.88" y="955.11" font-size="9.6" font-weight="normal" text-anchor="middle" fill="#111"  stroke="#111" stroke-width="0.12">8</text>
<rect x="524.1" y="945.3" width="12.45" height="12.7" stroke="#333" stroke-width="1.2" fill="none"/>
<text x="530.33" y="955.11" font-size="9.6" font-weight="normal" text-anchor="middle" fill="#111"  stroke="#111" stroke-width="0.12">9</text>
<rect x="536.55" y="945.3" width="12.45" height="12.7" stroke="#333" stroke-width="1.2" fill="none"/>
<text x="542.77" y="955.11" font-size="9.6" font-weight="normal" text-anchor="middle" fill="#111" textLength="9.4" lengthAdjust="spacingAndGlyphs"  stroke="#111" stroke-width="0.12">10</text>
<rect x="549" y="945.3" width="12.45" height="12.7" stroke="#333" stroke-width="1.2" fill="none"/>
<text x="555.23" y="955.11" font-size="9.6" font-weight="normal" text-anchor="middle" fill="#111" textLength="9.4" lengthAdjust="spacingAndGlyphs"  stroke="#111" stroke-width="0.12">11</text>
<rect x="561.45" y="945.3" width="12.45" height="12.7" stroke="#333" stroke-width="1.2" fill="none"/>
<text x="567.67" y="955.11" font-size="9.6" font-weight="normal" text-anchor="middle" fill="#111" textLength="9.4" lengthAdjust="spacingAndGlyphs"  stroke="#111" stroke-width="0.12">12</text>
<rect x="573.9" y="945.3" width="12.45" height="12.7" stroke="#333" stroke-width="1.2" fill="none"/>
<text x="580.12" y="955.11" font-size="9.6" font-weight="normal" text-anchor="middle" fill="#111" textLength="9.4" lengthAdjust="spacingAndGlyphs"  stroke="#111" stroke-width="0.12">13</text>
<rect x="586.35" y="945.3" width="12.45" height="12.7" stroke="#333" stroke-width="1.2" fill="none"/>
<text x="592.58" y="955.11" font-size="9.6" font-weight="normal" text-anchor="middle" fill="#111" textLength="9.4" lengthAdjust="spacingAndGlyphs"  stroke="#111" stroke-width="0.12">14</text>
<rect x="598.8" y="945.3" width="12.45" height="12.7" stroke="#333" stroke-width="1.2" fill="none"/>
<text x="605.02" y="955.11" font-size="9.6" font-weight="normal" text-anchor="middle" fill="#111" textLength="9.4" lengthAdjust="spacingAndGlyphs"  stroke="#111" stroke-width="0.12">15</text>
<rect x="611.25" y="945.3" width="12.45" height="12.7" stroke="#333" stroke-width="1.2" fill="none"/>
<text x="617.48" y="955.11" font-size="9.6" font-weight="normal" text-anchor="middle" fill="#111" textLength="9.4" lengthAdjust="spacingAndGlyphs"  stroke="#111" stroke-width="0.12">16</text>
<rect x="486.3" y="958" width="12.49" height="12.3" stroke="#333" stroke-width="1.2" fill="none"/>
<text x="492.55" y="967.61" font-size="9.6" font-weight="normal" text-anchor="middle" fill="#111" textLength="9.4" lengthAdjust="spacingAndGlyphs"  stroke="#111" stroke-width="0.12">17</text>
<rect x="498.79" y="958" width="12.49" height="12.3" stroke="#333" stroke-width="1.2" fill="none"/>
<text x="505.04" y="967.61" font-size="9.6" font-weight="normal" text-anchor="middle" fill="#111" textLength="9.4" lengthAdjust="spacingAndGlyphs"  stroke="#111" stroke-width="0.12">18</text>
<rect x="511.28" y="958" width="12.49" height="12.3" stroke="#333" stroke-width="1.2" fill="none"/>
<text x="517.52" y="967.61" font-size="9.6" font-weight="normal" text-anchor="middle" fill="#111" textLength="9.4" lengthAdjust="spacingAndGlyphs"  stroke="#111" stroke-width="0.12">19</text>
<rect x="523.77" y="958" width="12.49" height="12.3" stroke="#333" stroke-width="1.2" fill="none"/>
<text x="530.01" y="967.61" font-size="9.6" font-weight="normal" text-anchor="middle" fill="#111" textLength="9.4" lengthAdjust="spacingAndGlyphs"  stroke="#111" stroke-width="0.12">20</text>
<rect x="536.26" y="958" width="12.49" height="12.3" stroke="#333" stroke-width="1.2" fill="none"/>
<text x="542.5" y="967.61" font-size="9.6" font-weight="normal" text-anchor="middle" fill="#111" textLength="9.4" lengthAdjust="spacingAndGlyphs"  stroke="#111" stroke-width="0.12">21</text>
<rect x="548.75" y="958" width="12.49" height="12.3" stroke="#333" stroke-width="1.2" fill="none"/>
<text x="555" y="967.61" font-size="9.6" font-weight="normal" text-anchor="middle" fill="#111" textLength="9.4" lengthAdjust="spacingAndGlyphs"  stroke="#111" stroke-width="0.12">22</text>
<rect x="561.24" y="958" width="12.49" height="12.3" stroke="#333" stroke-width="1.2" fill="none"/>
<text x="567.49" y="967.61" font-size="9.6" font-weight="normal" text-anchor="middle" fill="#111" textLength="9.4" lengthAdjust="spacingAndGlyphs"  stroke="#111" stroke-width="0.12">23</text>
<rect x="573.73" y="958" width="12.49" height="12.3" stroke="#333" stroke-width="1.2" fill="none"/>
<text x="579.98" y="967.61" font-size="9.6" font-weight="normal" text-anchor="middle" fill="#111" textLength="9.4" lengthAdjust="spacingAndGlyphs"  stroke="#111" stroke-width="0.12">24</text>
<rect x="586.22" y="958" width="12.49" height="12.3" stroke="#333" stroke-width="1.2" fill="none"/>
<text x="592.47" y="967.61" font-size="9.6" font-weight="normal" text-anchor="middle" fill="#111" textLength="9.4" lengthAdjust="spacingAndGlyphs"  stroke="#111" stroke-width="0.12">25</text>
<rect x="598.71" y="958" width="12.49" height="12.3" stroke="#333" stroke-width="1.2" fill="none"/>
<text x="604.96" y="967.61" font-size="9.6" font-weight="normal" text-anchor="middle" fill="#111" textLength="9.4" lengthAdjust="spacingAndGlyphs"  stroke="#111" stroke-width="0.12">26</text>
<rect x="611.2" y="958" width="12.49" height="12.3" stroke="#333" stroke-width="1.2" fill="none"/>
<text x="617.45" y="967.61" font-size="9.6" font-weight="normal" text-anchor="middle" fill="#111" textLength="9.4" lengthAdjust="spacingAndGlyphs"  stroke="#111" stroke-width="0.12">27</text>
<rect x="486.3" y="970.3" width="12.49" height="12.7" stroke="#333" stroke-width="1.2" fill="none"/>
<text x="492.55" y="980.11" font-size="9.6" font-weight="normal" text-anchor="middle" fill="#111" textLength="9.4" lengthAdjust="spacingAndGlyphs"  stroke="#111" stroke-width="0.12">28</text>
<rect x="498.79" y="970.3" width="12.49" height="12.7" stroke="#333" stroke-width="1.2" fill="none"/>
<text x="505.04" y="980.11" font-size="9.6" font-weight="normal" text-anchor="middle" fill="#111" textLength="9.4" lengthAdjust="spacingAndGlyphs"  stroke="#111" stroke-width="0.12">29</text>
<rect x="511.28" y="970.3" width="12.49" height="12.7" stroke="#333" stroke-width="1.2" fill="none"/>
<text x="517.52" y="980.11" font-size="9.6" font-weight="normal" text-anchor="middle" fill="#111" textLength="9.4" lengthAdjust="spacingAndGlyphs"  stroke="#111" stroke-width="0.12">30</text>
<rect x="561.24" y="970.3" width="12.49" height="12.7" stroke="#333" stroke-width="1.2" fill="none"/>
<text x="567.49" y="980.11" font-size="9.6" font-weight="normal" text-anchor="middle" fill="#111" textLength="9.4" lengthAdjust="spacingAndGlyphs"  stroke="#111" stroke-width="0.12">31</text>
<rect x="573.73" y="970.3" width="12.49" height="12.7" stroke="#333" stroke-width="1.2" fill="none"/>
<text x="579.98" y="980.11" font-size="9.6" font-weight="normal" text-anchor="middle" fill="#111" textLength="9.4" lengthAdjust="spacingAndGlyphs"  stroke="#111" stroke-width="0.12">32</text>
<rect x="586.22" y="970.3" width="12.49" height="12.7" stroke="#333" stroke-width="1.2" fill="none"/>
<text x="592.47" y="980.11" font-size="9.6" font-weight="normal" text-anchor="middle" fill="#111" textLength="9.4" lengthAdjust="spacingAndGlyphs"  stroke="#111" stroke-width="0.12">33</text>
<rect x="598.71" y="970.3" width="12.49" height="12.7" stroke="#333" stroke-width="1.2" fill="none"/>
<text x="604.96" y="980.11" font-size="9.6" font-weight="normal" text-anchor="middle" fill="#111" textLength="9.4" lengthAdjust="spacingAndGlyphs"  stroke="#111" stroke-width="0.12">34</text>
<rect x="611.2" y="970.3" width="12.49" height="12.7" stroke="#333" stroke-width="1.2" fill="none"/>
<text x="617.45" y="980.11" font-size="9.6" font-weight="normal" text-anchor="middle" fill="#111" textLength="9.4" lengthAdjust="spacingAndGlyphs"  stroke="#111" stroke-width="0.12">35</text>
<path d="M679.8,833.2 H833.5 Q844,833.2 844,843.7 V919.5 Q844,930 833.5,930 H793.5 V938.4 H777 V930 H679.8 Q669.3,930 669.3,919.5 V843.7 Q669.3,833.2 679.8,833.2 Z" stroke="#333" stroke-width="1.2" fill="none" />
<path d="M669.3,875 H660 V871 Q656,870.8 656,873 V890.5 Q656,892.7 660,892.5 V888 H669.3" stroke="#333" stroke-width="1.2" fill="none" />
<path d="M844,875 H852.8 V871 Q856.9,870.8 856.9,873 V890.5 Q856.9,892.7 852.8,892.5 V888 H844" stroke="#333" stroke-width="1.2" fill="none" />
<rect x="690" y="841.5" width="11.84" height="12" stroke="#333" stroke-width="1.2" fill="none"/>
<text x="695.92" y="850.96" font-size="9.6" font-weight="normal" text-anchor="middle" fill="#111"  stroke="#111" stroke-width="0.12">1</text>
<rect x="701.84" y="841.5" width="11.84" height="12" stroke="#333" stroke-width="1.2" fill="none"/>
<text x="707.75" y="850.96" font-size="9.6" font-weight="normal" text-anchor="middle" fill="#111"  stroke="#111" stroke-width="0.12">2</text>
<rect x="713.67" y="841.5" width="11.84" height="12" stroke="#333" stroke-width="1.2" fill="none"/>
<text x="719.59" y="850.96" font-size="9.6" font-weight="normal" text-anchor="middle" fill="#111"  stroke="#111" stroke-width="0.12">3</text>
<rect x="725.51" y="841.5" width="11.84" height="12" stroke="#333" stroke-width="1.2" fill="none"/>
<text x="731.43" y="850.96" font-size="9.6" font-weight="normal" text-anchor="middle" fill="#111"  stroke="#111" stroke-width="0.12">4</text>
<rect x="737.34" y="841.5" width="11.84" height="12" stroke="#333" stroke-width="1.2" fill="none"/>
<text x="743.26" y="850.96" font-size="9.6" font-weight="normal" text-anchor="middle" fill="#111"  stroke="#111" stroke-width="0.12">5</text>
<rect x="749.18" y="841.5" width="11.84" height="12" stroke="#333" stroke-width="1.2" fill="none"/>
<text x="755.1" y="850.96" font-size="9.6" font-weight="normal" text-anchor="middle" fill="#111"  stroke="#111" stroke-width="0.12">6</text>
<rect x="761.02" y="841.5" width="11.84" height="12" stroke="#333" stroke-width="1.2" fill="none"/>
<text x="766.93" y="850.96" font-size="9.6" font-weight="normal" text-anchor="middle" fill="#111"  stroke="#111" stroke-width="0.12">7</text>
<rect x="772.85" y="841.5" width="11.84" height="12" stroke="#333" stroke-width="1.2" fill="none"/>
<text x="778.77" y="850.96" font-size="9.6" font-weight="normal" text-anchor="middle" fill="#111"  stroke="#111" stroke-width="0.12">8</text>
<rect x="784.69" y="841.5" width="11.84" height="12" stroke="#333" stroke-width="1.2" fill="none"/>
<text x="790.61" y="850.96" font-size="9.6" font-weight="normal" text-anchor="middle" fill="#111"  stroke="#111" stroke-width="0.12">9</text>
<rect x="796.52" y="841.5" width="11.84" height="12" stroke="#333" stroke-width="1.2" fill="none"/>
<text x="802.44" y="850.96" font-size="9.6" font-weight="normal" text-anchor="middle" fill="#111" textLength="9.4" lengthAdjust="spacingAndGlyphs"  stroke="#111" stroke-width="0.12">10</text>
<rect x="808.36" y="841.5" width="11.84" height="12" stroke="#333" stroke-width="1.2" fill="none"/>
<text x="814.28" y="850.96" font-size="9.6" font-weight="normal" text-anchor="middle" fill="#111" textLength="9.4" lengthAdjust="spacingAndGlyphs"  stroke="#111" stroke-width="0.12">11</text>
<rect x="690" y="853.5" width="11.84" height="11.75" stroke="#333" stroke-width="1.2" fill="none"/>
<text x="695.92" y="862.83" font-size="9.6" font-weight="normal" text-anchor="middle" fill="#111" textLength="9.4" lengthAdjust="spacingAndGlyphs"  stroke="#111" stroke-width="0.12">12</text>
<rect x="701.84" y="853.5" width="11.84" height="11.75" stroke="#333" stroke-width="1.2" fill="none"/>
<text x="707.75" y="862.83" font-size="9.6" font-weight="normal" text-anchor="middle" fill="#111" textLength="9.4" lengthAdjust="spacingAndGlyphs"  stroke="#111" stroke-width="0.12">13</text>
<rect x="713.67" y="853.5" width="11.84" height="11.75" stroke="#333" stroke-width="1.2" fill="none"/>
<text x="719.59" y="862.83" font-size="9.6" font-weight="normal" text-anchor="middle" fill="#111" textLength="9.4" lengthAdjust="spacingAndGlyphs"  stroke="#111" stroke-width="0.12">14</text>
<rect x="725.51" y="853.5" width="11.84" height="11.75" stroke="#333" stroke-width="1.2" fill="none"/>
<text x="731.43" y="862.83" font-size="9.6" font-weight="normal" text-anchor="middle" fill="#111" textLength="9.4" lengthAdjust="spacingAndGlyphs"  stroke="#111" stroke-width="0.12">15</text>
<rect x="737.34" y="853.5" width="11.84" height="11.75" stroke="#333" stroke-width="1.2" fill="none"/>
<text x="743.26" y="862.83" font-size="9.6" font-weight="normal" text-anchor="middle" fill="#111" textLength="9.4" lengthAdjust="spacingAndGlyphs"  stroke="#111" stroke-width="0.12">16</text>
<rect x="749.18" y="853.5" width="11.84" height="11.75" stroke="#333" stroke-width="1.2" fill="none"/>
<text x="755.1" y="862.83" font-size="9.6" font-weight="normal" text-anchor="middle" fill="#111" textLength="9.4" lengthAdjust="spacingAndGlyphs"  stroke="#111" stroke-width="0.12">17</text>
<rect x="761.02" y="853.5" width="11.84" height="11.75" stroke="#333" stroke-width="1.2" fill="none"/>
<text x="766.93" y="862.83" font-size="9.6" font-weight="normal" text-anchor="middle" fill="#111" textLength="9.4" lengthAdjust="spacingAndGlyphs"  stroke="#111" stroke-width="0.12">18</text>
<rect x="772.85" y="853.5" width="11.84" height="11.75" stroke="#333" stroke-width="1.2" fill="none"/>
<text x="778.77" y="862.83" font-size="9.6" font-weight="normal" text-anchor="middle" fill="#111" textLength="9.4" lengthAdjust="spacingAndGlyphs"  stroke="#111" stroke-width="0.12">19</text>
<rect x="784.69" y="853.5" width="11.84" height="11.75" stroke="#333" stroke-width="1.2" fill="none"/>
<text x="790.61" y="862.83" font-size="9.6" font-weight="normal" text-anchor="middle" fill="#111" textLength="9.4" lengthAdjust="spacingAndGlyphs"  stroke="#111" stroke-width="0.12">20</text>
<rect x="796.52" y="853.5" width="11.84" height="11.75" stroke="#333" stroke-width="1.2" fill="none"/>
<text x="802.44" y="862.83" font-size="9.6" font-weight="normal" text-anchor="middle" fill="#111" textLength="9.4" lengthAdjust="spacingAndGlyphs"  stroke="#111" stroke-width="0.12">21</text>
<rect x="808.36" y="853.5" width="11.84" height="11.75" stroke="#333" stroke-width="1.2" fill="none"/>
<text x="814.28" y="862.83" font-size="9.6" font-weight="normal" text-anchor="middle" fill="#111" textLength="9.4" lengthAdjust="spacingAndGlyphs"  stroke="#111" stroke-width="0.12">22</text>
<rect x="690" y="865.25" width="11.84" height="12.25" stroke="#333" stroke-width="1.2" fill="none"/>
<text x="695.92" y="874.83" font-size="9.6" font-weight="normal" text-anchor="middle" fill="#111" textLength="9.4" lengthAdjust="spacingAndGlyphs"  stroke="#111" stroke-width="0.12">23</text>
<rect x="701.84" y="865.25" width="11.84" height="12.25" stroke="#333" stroke-width="1.2" fill="none"/>
<text x="707.75" y="874.83" font-size="9.6" font-weight="normal" text-anchor="middle" fill="#111" textLength="9.4" lengthAdjust="spacingAndGlyphs"  stroke="#111" stroke-width="0.12">24</text>
<rect x="713.67" y="865.25" width="11.84" height="12.25" stroke="#333" stroke-width="1.2" fill="none"/>
<text x="719.59" y="874.83" font-size="9.6" font-weight="normal" text-anchor="middle" fill="#111" textLength="9.4" lengthAdjust="spacingAndGlyphs"  stroke="#111" stroke-width="0.12">25</text>
<rect x="725.51" y="865.25" width="11.84" height="12.25" stroke="#333" stroke-width="1.2" fill="none"/>
<text x="731.43" y="874.83" font-size="9.6" font-weight="normal" text-anchor="middle" fill="#111" textLength="9.4" lengthAdjust="spacingAndGlyphs"  stroke="#111" stroke-width="0.12">26</text>
<rect x="737.34" y="865.25" width="11.84" height="12.25" stroke="#333" stroke-width="1.2" fill="none"/>
<text x="743.26" y="874.83" font-size="9.6" font-weight="normal" text-anchor="middle" fill="#111" textLength="9.4" lengthAdjust="spacingAndGlyphs"  stroke="#111" stroke-width="0.12">27</text>
<rect x="749.18" y="865.25" width="11.84" height="12.25" stroke="#333" stroke-width="1.2" fill="none"/>
<text x="755.1" y="874.83" font-size="9.6" font-weight="normal" text-anchor="middle" fill="#111" textLength="9.4" lengthAdjust="spacingAndGlyphs"  stroke="#111" stroke-width="0.12">28</text>
<rect x="761.02" y="865.25" width="11.84" height="12.25" stroke="#333" stroke-width="1.2" fill="none"/>
<text x="766.93" y="874.83" font-size="9.6" font-weight="normal" text-anchor="middle" fill="#111" textLength="9.4" lengthAdjust="spacingAndGlyphs"  stroke="#111" stroke-width="0.12">29</text>
<rect x="772.85" y="865.25" width="11.84" height="12.25" stroke="#333" stroke-width="1.2" fill="none"/>
<text x="778.77" y="874.83" font-size="9.6" font-weight="normal" text-anchor="middle" fill="#111" textLength="9.4" lengthAdjust="spacingAndGlyphs"  stroke="#111" stroke-width="0.12">30</text>
<rect x="784.69" y="865.25" width="11.84" height="12.25" stroke="#333" stroke-width="1.2" fill="none"/>
<text x="790.61" y="874.83" font-size="9.6" font-weight="normal" text-anchor="middle" fill="#111" textLength="9.4" lengthAdjust="spacingAndGlyphs"  stroke="#111" stroke-width="0.12">31</text>
<rect x="796.52" y="865.25" width="11.84" height="12.25" stroke="#333" stroke-width="1.2" fill="none"/>
<text x="802.44" y="874.83" font-size="9.6" font-weight="normal" text-anchor="middle" fill="#111" textLength="9.4" lengthAdjust="spacingAndGlyphs"  stroke="#111" stroke-width="0.12">32</text>
<rect x="808.36" y="865.25" width="11.84" height="12.25" stroke="#333" stroke-width="1.2" fill="none"/>
<text x="814.28" y="874.83" font-size="9.6" font-weight="normal" text-anchor="middle" fill="#111" textLength="9.4" lengthAdjust="spacingAndGlyphs"  stroke="#111" stroke-width="0.12">33</text>
<rect x="680.6" y="885.3" width="18.62" height="12.5" stroke="#333" stroke-width="1.2" fill="none"/>
<text x="689.91" y="895.01" font-size="9.6" font-weight="normal" text-anchor="middle" fill="#111" textLength="9.4" lengthAdjust="spacingAndGlyphs"  stroke="#111" stroke-width="0.12">34</text>
<rect x="699.23" y="885.3" width="18.62" height="12.5" stroke="#333" stroke-width="1.2" fill="none"/>
<text x="708.54" y="895.01" font-size="9.6" font-weight="normal" text-anchor="middle" fill="#111" textLength="9.4" lengthAdjust="spacingAndGlyphs"  stroke="#111" stroke-width="0.12">35</text>
<rect x="717.85" y="885.3" width="18.62" height="12.5" stroke="#333" stroke-width="1.2" fill="none"/>
<text x="727.16" y="895.01" font-size="9.6" font-weight="normal" text-anchor="middle" fill="#111" textLength="9.4" lengthAdjust="spacingAndGlyphs"  stroke="#111" stroke-width="0.12">36</text>
<rect x="736.48" y="885.3" width="18.62" height="12.5" stroke="#333" stroke-width="1.2" fill="none"/>
<text x="745.79" y="895.01" font-size="9.6" font-weight="normal" text-anchor="middle" fill="#111" textLength="9.4" lengthAdjust="spacingAndGlyphs"  stroke="#111" stroke-width="0.12">37</text>
<rect x="755.1" y="885.3" width="18.62" height="12.5" stroke="#333" stroke-width="1.2" fill="none"/>
<text x="764.41" y="895.01" font-size="9.6" font-weight="normal" text-anchor="middle" fill="#111" textLength="9.4" lengthAdjust="spacingAndGlyphs"  stroke="#111" stroke-width="0.12">38</text>
<rect x="773.73" y="885.3" width="18.62" height="12.5" stroke="#333" stroke-width="1.2" fill="none"/>
<text x="783.04" y="895.01" font-size="9.6" font-weight="normal" text-anchor="middle" fill="#111" textLength="9.4" lengthAdjust="spacingAndGlyphs"  stroke="#111" stroke-width="0.12">39</text>
<rect x="792.35" y="885.3" width="18.62" height="12.5" stroke="#333" stroke-width="1.2" fill="none"/>
<text x="801.66" y="895.01" font-size="9.6" font-weight="normal" text-anchor="middle" fill="#111" textLength="9.4" lengthAdjust="spacingAndGlyphs"  stroke="#111" stroke-width="0.12">40</text>
<rect x="810.98" y="885.3" width="18.62" height="12.5" stroke="#333" stroke-width="1.2" fill="none"/>
<text x="820.29" y="895.01" font-size="9.6" font-weight="normal" text-anchor="middle" fill="#111" textLength="9.4" lengthAdjust="spacingAndGlyphs"  stroke="#111" stroke-width="0.12">41</text>
<rect x="680.6" y="897.8" width="18.62" height="12.4" stroke="#333" stroke-width="1.2" fill="none"/>
<text x="689.91" y="907.46" font-size="9.6" font-weight="normal" text-anchor="middle" fill="#111" textLength="9.4" lengthAdjust="spacingAndGlyphs"  stroke="#111" stroke-width="0.12">42</text>
<rect x="699.23" y="897.8" width="18.62" height="12.4" stroke="#333" stroke-width="1.2" fill="none"/>
<text x="708.54" y="907.46" font-size="9.6" font-weight="normal" text-anchor="middle" fill="#111" textLength="9.4" lengthAdjust="spacingAndGlyphs"  stroke="#111" stroke-width="0.12">43</text>
<rect x="717.85" y="897.8" width="18.62" height="12.4" stroke="#333" stroke-width="1.2" fill="none"/>
<rect x="736.48" y="897.8" width="18.62" height="12.4" stroke="#333" stroke-width="1.2" fill="none"/>
<text x="745.79" y="907.46" font-size="9.6" font-weight="normal" text-anchor="middle" fill="#111" textLength="9.4" lengthAdjust="spacingAndGlyphs"  stroke="#111" stroke-width="0.12">44</text>
<rect x="755.1" y="897.8" width="18.62" height="12.4" stroke="#333" stroke-width="1.2" fill="none"/>
<text x="764.41" y="907.46" font-size="9.6" font-weight="normal" text-anchor="middle" fill="#111" textLength="9.4" lengthAdjust="spacingAndGlyphs"  stroke="#111" stroke-width="0.12">45</text>
<rect x="773.73" y="897.8" width="18.62" height="12.4" stroke="#333" stroke-width="1.2" fill="none"/>
<rect x="792.35" y="897.8" width="18.62" height="12.4" stroke="#333" stroke-width="1.2" fill="none"/>
<text x="801.66" y="907.46" font-size="9.6" font-weight="normal" text-anchor="middle" fill="#111" textLength="9.4" lengthAdjust="spacingAndGlyphs"  stroke="#111" stroke-width="0.12">46</text>
<rect x="810.98" y="897.8" width="18.62" height="12.4" stroke="#333" stroke-width="1.2" fill="none"/>
<text x="820.29" y="907.46" font-size="9.6" font-weight="normal" text-anchor="middle" fill="#111" textLength="9.4" lengthAdjust="spacingAndGlyphs"  stroke="#111" stroke-width="0.12">47</text>
<line x1="717.85" y1="897.8" x2="736.48" y2="910.2" stroke="#333" stroke-width="1.2" />
<line x1="717.85" y1="910.2" x2="736.48" y2="897.8" stroke="#333" stroke-width="1.2" />
<line x1="773.73" y1="897.8" x2="792.35" y2="910.2" stroke="#333" stroke-width="1.2" />
<line x1="773.73" y1="910.2" x2="792.35" y2="897.8" stroke="#333" stroke-width="1.2" />
<rect x="690.7" y="910.2" width="18.6" height="12.5" stroke="#333" stroke-width="1.2" fill="none"/>
<text x="700" y="919.91" font-size="9.6" font-weight="normal" text-anchor="middle" fill="#111" textLength="9.4" lengthAdjust="spacingAndGlyphs"  stroke="#111" stroke-width="0.12">48</text>
<rect x="709.3" y="910.2" width="18.6" height="12.5" stroke="#333" stroke-width="1.2" fill="none"/>
<text x="718.6" y="919.91" font-size="9.6" font-weight="normal" text-anchor="middle" fill="#111" textLength="9.4" lengthAdjust="spacingAndGlyphs"  stroke="#111" stroke-width="0.12">49</text>
<rect x="727.9" y="910.2" width="18.6" height="12.5" stroke="#333" stroke-width="1.2" fill="none"/>
<text x="737.2" y="919.91" font-size="9.6" font-weight="normal" text-anchor="middle" fill="#111" textLength="9.4" lengthAdjust="spacingAndGlyphs"  stroke="#111" stroke-width="0.12">50</text>
<rect x="746.5" y="910.2" width="18.6" height="12.5" stroke="#333" stroke-width="1.2" fill="none"/>
<text x="755.8" y="919.91" font-size="9.6" font-weight="normal" text-anchor="middle" fill="#111" textLength="9.4" lengthAdjust="spacingAndGlyphs"  stroke="#111" stroke-width="0.12">51</text>
<rect x="765.1" y="910.2" width="18.6" height="12.5" stroke="#333" stroke-width="1.2" fill="none"/>
<text x="774.4" y="919.91" font-size="9.6" font-weight="normal" text-anchor="middle" fill="#111" textLength="9.4" lengthAdjust="spacingAndGlyphs"  stroke="#111" stroke-width="0.12">52</text>
<rect x="783.7" y="910.2" width="18.6" height="12.5" stroke="#333" stroke-width="1.2" fill="none"/>
<text x="793" y="919.91" font-size="9.6" font-weight="normal" text-anchor="middle" fill="#111" textLength="9.4" lengthAdjust="spacingAndGlyphs"  stroke="#111" stroke-width="0.12">53</text>
<rect x="802.3" y="910.2" width="18.6" height="12.5" stroke="#333" stroke-width="1.2" fill="none"/>
<text x="811.6" y="919.91" font-size="9.6" font-weight="normal" text-anchor="middle" fill="#111" textLength="9.4" lengthAdjust="spacingAndGlyphs"  stroke="#111" stroke-width="0.12">54</text>
<text x="830.7" y="1004" font-size="11.6" font-weight="normal" text-anchor="start" fill="#111" textLength="52.1" lengthAdjust="spacingAndGlyphs" >EN-03737</text>
<rect x="73.1" y="1028.9" width="813.5" height="144" stroke="#000" stroke-width="1.7" fill="none"/>
<line x1="73.1" y1="1050.2" x2="886.6" y2="1050.2" stroke="#000" stroke-width="1.1" />
<line x1="437.5" y1="1028.9" x2="437.5" y2="1172.9" stroke="#000" stroke-width="1.1" />
<line x1="638.1" y1="1028.9" x2="638.1" y2="1172.9" stroke="#000" stroke-width="1.1" />
<line x1="761.9" y1="1028.9" x2="761.9" y2="1172.9" stroke="#000" stroke-width="1.1" />
<text x="255.6" y="1044" font-size="13.8" font-weight="bold" text-anchor="middle" fill="#000" >Step</text>
<text x="537.8" y="1044" font-size="13.8" font-weight="bold" text-anchor="middle" fill="#000" >Check</text>
<text x="700.2" y="1044" font-size="13.8" font-weight="bold" text-anchor="middle" fill="#000" >Yes</text>
<text x="824.4" y="1044" font-size="13.8" font-weight="bold" text-anchor="middle" fill="#000" >No</text>
<text x="76.7" y="1063" font-size="13.8" font-weight="bold" text-anchor="start" fill="#000" >1</text>
<text x="143.3" y="1063" font-size="13.8" font-weight="bold" text-anchor="start" fill="#000" textLength="231" lengthAdjust="spacingAndGlyphs" >CHECK OUTPUT SIGNAL OF ECM.</text>
<text x="144.2" y="1080.4" font-size="13.8" font-weight="normal" text-anchor="start" fill="#000" >1)</text>
<text x="164.5" y="1080.4" font-size="13.8" font-weight="normal" text-anchor="start" fill="#000" textLength="185.5" lengthAdjust="spacingAndGlyphs" >Turn the ignition switch to ON.</text>
<text x="144.2" y="1097.6" font-size="13.8" font-weight="normal" text-anchor="start" fill="#000" >2)</text>
<text x="164.5" y="1097.6" font-size="13.8" font-weight="normal" text-anchor="start" fill="#000" textLength="249.7" lengthAdjust="spacingAndGlyphs" >Measure the voltage between ECM con-</text>
<text x="143.3" y="1114.9" font-size="13.8" font-weight="normal" text-anchor="start" fill="#000" textLength="168" lengthAdjust="spacingAndGlyphs" >nector and chassis ground.</text>
<text x="153.2" y="1132.1" font-size="13.8" font-weight="bold" text-anchor="start" fill="#000" textLength="142.6" lengthAdjust="spacingAndGlyphs" font-style="italic" >Connector &amp; terminal</text>
<text x="162" y="1149.4" font-size="13.8" font-weight="bold" text-anchor="start" fill="#000" textLength="256.7" lengthAdjust="spacingAndGlyphs" font-style="italic" >(B136) No. 2 (+) — Chassis ground (–):</text>
<text x="162" y="1166.6" font-size="13.8" font-weight="bold" text-anchor="start" fill="#000" textLength="256.7" lengthAdjust="spacingAndGlyphs" font-style="italic" >(B136) No. 3 (+) — Chassis ground (–):</text>
<text x="440.8" y="1063" font-size="13.8" font-weight="normal" text-anchor="start" fill="#000" textLength="184" lengthAdjust="spacingAndGlyphs" >Is the voltage more than 8 V?</text>
<text x="641.5" y="1063" font-size="13.8" fill="#000">Go to step <tspan font-weight="bold">2</tspan>.</text>
<text x="765.9" y="1063" font-size="13.8" fill="#000">Go to step <tspan font-weight="bold">3</tspan>.</text>
<text x="382.75" y="1208.3" font-size="21.7" font-weight="bold" text-anchor="start" fill="#000" textLength="195.5" lengthAdjust="spacingAndGlyphs" >EN(H6DO)(diag)-93</text>
<text x="680.8" y="1233.6" font-size="27" font-weight="normal" text-anchor="start" fill="#8c8c8c" textLength="262" lengthAdjust="spacingAndGlyphs"  stroke="#8c8c8c" stroke-width="0.7">carmanualsonline.info</text>
</svg>
</body></html>
